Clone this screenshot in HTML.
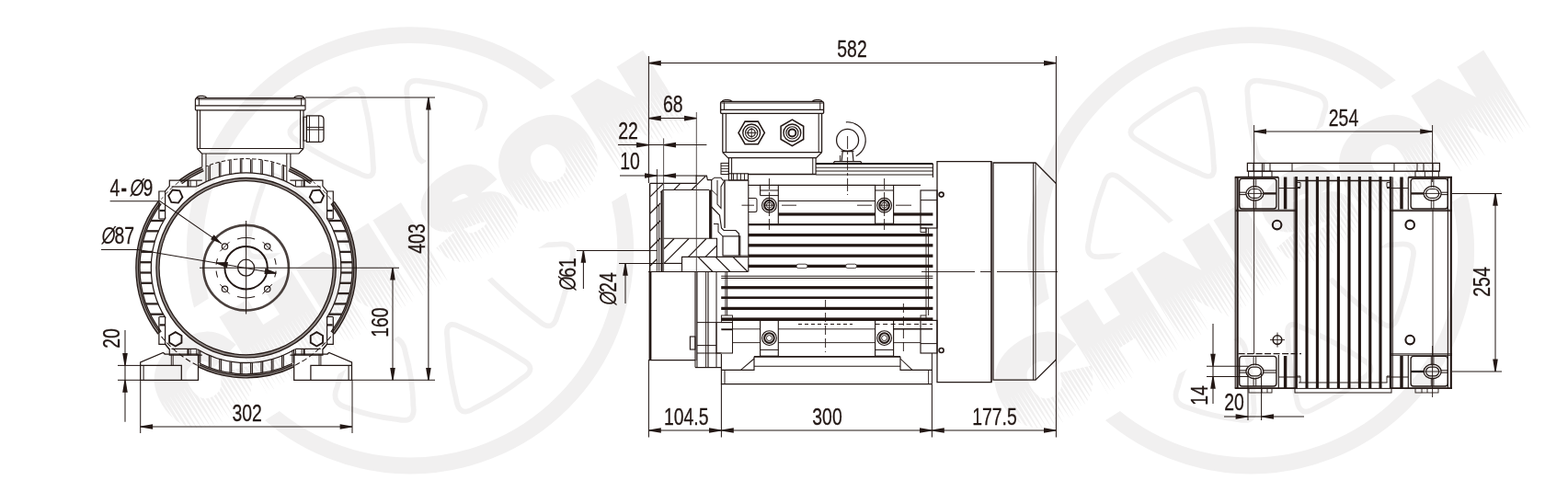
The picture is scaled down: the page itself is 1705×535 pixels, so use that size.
<!DOCTYPE html>
<html><head><meta charset="utf-8"><title>Motor dimensions</title>
<style>
html,body{margin:0;padding:0;background:#fff;}
body{width:1705px;height:535px;overflow:hidden;}
svg{display:block;will-change:transform;font-family:"Liberation Sans",sans-serif;}
</style></head><body>
<svg width="1705" height="535" viewBox="0 0 1705 535">
<rect width="1705" height="535" fill="#fff"/>
<g transform="translate(446,272.3)">
<circle cx="0" cy="0" r="234.2" fill="none" stroke="#f1f0f0" stroke-width="17.8"/>
<path d="M-121.6,-118.8 Q-139.3,-128.2 -122.3,-138.8 Q-98.0,-158.3 -69.9,-171.6 Q-53.0,-182.2 -50.1,-162.4 Q-41.6,-128.7 -40.3,-94.0 Q-37.4,-74.2 -55.1,-83.6 Q-90.1,-98.0 -121.6,-118.8 Z" fill="none" stroke="#f1f0f0" stroke-width="5.8" stroke-linejoin="round"/>
<path d="M121.6,118.8 Q139.3,128.2 122.3,138.8 Q98.0,158.3 69.9,171.6 Q53.0,182.2 50.1,162.4 Q41.6,128.7 40.3,94.0 Q37.4,74.2 55.1,83.6 Q90.1,98.0 121.6,118.8 Z" fill="none" stroke="#f1f0f0" stroke-width="5.8" stroke-linejoin="round"/>
<path d="M-3.4,-168.5 Q-6.3,-188.3 13.2,-183.8 Q41.3,-181.0 67.7,-171.2 Q87.2,-166.7 79.3,-148.3 Q75.3,-130.1 64.8,-114.8 Q56.9,-96.4 36.9,-94.5 Q32.8,-90.5 27.9,-93.7 Q8.0,-91.8 5.1,-111.6 Q-2.7,-139.5 -3.4,-168.5 Z" fill="none" stroke="#f1f0f0" stroke-width="5.8" stroke-linejoin="round"/>
<path d="M3.4,168.5 Q6.3,188.3 -13.2,183.8 Q-41.3,181.0 -67.7,171.2 Q-87.2,166.7 -79.3,148.3 Q-75.3,130.1 -64.8,114.8 Q-56.9,96.4 -36.9,94.5 Q-32.8,90.5 -27.9,93.7 Q-8.0,91.8 -5.1,111.6 Q2.7,139.5 3.4,168.5 Z" fill="none" stroke="#f1f0f0" stroke-width="5.8" stroke-linejoin="round"/>
<path d="M140.0,76.8 Q155.0,90.0 160.1,70.7 Q171.5,41.3 176.0,10.1 Q181.0,-9.3 161.2,-6.7 Q120.3,-5.0 80.3,3.8 Q60.5,6.3 75.5,19.6 Q105.3,50.9 140.0,76.8 Z" fill="none" stroke="#f1f0f0" stroke-width="5.8" stroke-linejoin="round"/>
<path d="M-140.0,-76.8 Q-155.0,-90.0 -160.1,-70.7 Q-171.5,-41.3 -176.0,-10.1 Q-181.0,9.3 -161.2,6.7 Q-120.3,5.0 -80.3,-3.8 Q-60.5,-6.3 -75.5,-19.6 Q-105.3,-50.9 -140.0,-76.8 Z" fill="none" stroke="#f1f0f0" stroke-width="5.8" stroke-linejoin="round"/>
<g transform="rotate(-32.2)">
<rect x="-420" y="-72.5" width="840" height="144.5" fill="#fff"/>
<g transform="scale(1.08,1)">
<text x="-290.9 -198.3 -107.2 -15.4 29.9 118.2 219.7" y="40.60" font-family="Liberation Sans, sans-serif" font-weight="bold" font-size="119.0" fill="#f1f0f0" stroke="#f1f0f0" stroke-width="16.2" stroke-linejoin="miter">CHNISON</text>
<path d="M-307.96,-4.0L-307.84,-4.0L-307.84,55.4L-312.00,55.4L-312.00,-4.0L-311.18,21.4L-309.98,46.7L-308.79,21.4zM-303.84,-4.0L-303.72,-4.0L-303.72,55.4L-307.88,55.4L-307.88,-4.0L-307.06,23.4L-305.86,50.9L-304.67,23.4zM-299.72,-4.0L-299.60,-4.0L-299.60,55.4L-303.76,55.4L-303.76,-4.0L-302.94,25.5L-301.74,55.0L-300.55,25.5zM-295.60,-4.0L-295.48,-4.0L-295.48,55.4L-299.64,55.4L-299.64,-4.0L-298.81,22.4L-297.62,48.8L-296.42,22.4zM-291.48,-4.0L-291.36,-4.0L-291.36,55.4L-295.52,55.4L-295.52,-4.0L-294.69,24.5L-293.50,52.9L-292.30,24.5zM-287.36,-4.0L-287.24,-4.0L-287.24,55.4L-291.40,55.4L-291.40,-4.0L-290.57,21.4L-289.38,46.7L-288.18,21.4zM-283.24,-4.0L-283.12,-4.0L-283.12,55.4L-287.28,55.4L-287.28,-4.0L-286.45,23.4L-285.26,50.9L-284.06,23.4zM-279.12,-4.0L-279.00,-4.0L-279.00,55.4L-283.16,55.4L-283.16,-4.0L-282.33,25.5L-281.14,55.0L-279.94,25.5zM-275.00,-4.0L-274.88,-4.0L-274.88,55.4L-279.04,55.4L-279.04,-4.0L-278.21,22.4L-277.02,48.8L-275.82,22.4zM-270.88,-4.0L-270.76,-4.0L-270.76,55.4L-274.92,55.4L-274.92,-4.0L-274.09,24.5L-272.90,52.9L-271.70,24.5zM-266.76,-4.0L-266.64,-4.0L-266.64,55.4L-270.80,55.4L-270.80,-4.0L-269.97,21.4L-268.78,46.7L-267.58,21.4zM-262.64,-4.0L-262.52,-4.0L-262.52,55.4L-266.68,55.4L-266.68,-4.0L-265.85,23.4L-264.66,50.9L-263.46,23.4zM-258.52,-4.0L-258.40,-4.0L-258.40,55.4L-262.56,55.4L-262.56,-4.0L-261.73,25.5L-260.54,55.0L-259.34,25.5zM-254.40,-4.0L-254.27,-4.0L-254.27,55.4L-258.44,55.4L-258.44,-4.0L-257.61,22.4L-256.42,48.8L-255.22,22.4zM-250.28,-4.0L-250.15,-4.0L-250.15,55.4L-254.31,55.4L-254.31,-4.0L-253.49,24.5L-252.30,52.9L-251.10,24.5zM-246.16,-4.0L-246.03,-4.0L-246.03,55.4L-250.19,55.4L-250.19,-4.0L-249.37,21.4L-248.18,46.7L-246.98,21.4zM-242.04,-4.0L-241.91,-4.0L-241.91,55.4L-246.07,55.4L-246.07,-4.0L-245.25,23.4L-244.06,50.9L-242.86,23.4zM-237.92,-4.0L-237.79,-4.0L-237.79,55.4L-241.95,55.4L-241.95,-4.0L-241.13,25.5L-239.93,55.0L-238.74,25.5zM-233.80,-4.0L-233.67,-4.0L-233.67,55.4L-237.83,55.4L-237.83,-4.0L-237.01,22.4L-235.81,48.8L-234.62,22.4zM-229.67,-4.0L-229.55,-4.0L-229.55,55.4L-233.71,55.4L-233.71,-4.0L-232.89,24.5L-231.69,52.9L-230.50,24.5zM-225.55,-4.0L-225.43,-4.0L-225.43,55.4L-229.59,55.4L-229.59,-4.0L-228.77,21.4L-227.57,46.7L-226.38,21.4zM-221.43,-4.0L-221.31,-4.0L-221.31,55.4L-225.47,55.4L-225.47,-4.0L-224.65,23.4L-223.45,50.9L-222.26,23.4zM-217.31,-4.0L-217.19,-4.0L-217.19,55.4L-221.35,55.4L-221.35,-4.0L-220.53,25.5L-219.33,55.0L-218.14,25.5zM-213.19,-4.0L-213.07,-4.0L-213.07,55.4L-217.23,55.4L-217.23,-4.0L-216.41,22.4L-215.21,48.8L-214.02,22.4zM-209.07,-4.0L-208.95,-4.0L-208.95,55.4L-213.11,55.4L-213.11,-4.0L-212.29,24.5L-211.09,52.9L-209.90,24.5zM-204.95,-4.0L-204.83,-4.0L-204.83,55.4L-208.99,55.4L-208.99,-4.0L-208.17,21.4L-206.97,46.7L-205.78,21.4zM-200.83,-4.0L-200.71,-4.0L-200.71,55.4L-204.87,55.4L-204.87,-4.0L-204.05,23.4L-202.85,50.9L-201.66,23.4zM-196.71,-4.0L-196.59,-4.0L-196.59,55.4L-200.75,55.4L-200.75,-4.0L-199.93,25.5L-198.73,55.0L-197.54,25.5zM-192.59,-4.0L-192.47,-4.0L-192.47,55.4L-196.63,55.4L-196.63,-4.0L-195.81,22.4L-194.61,48.8L-193.42,22.4zM-188.47,-4.0L-188.35,-4.0L-188.35,55.4L-192.51,55.4L-192.51,-4.0L-191.69,24.5L-190.49,52.9L-189.30,24.5zM-184.35,-4.0L-184.23,-4.0L-184.23,55.4L-188.39,55.4L-188.39,-4.0L-187.56,21.4L-186.37,46.7L-185.17,21.4zM-180.23,-4.0L-180.11,-4.0L-180.11,55.4L-184.27,55.4L-184.27,-4.0L-183.44,23.4L-182.25,50.9L-181.05,23.4zM-176.11,-4.0L-175.99,-4.0L-175.99,55.4L-180.15,55.4L-180.15,-4.0L-179.32,25.5L-178.13,55.0L-176.93,25.5zM-171.99,-4.0L-171.87,-4.0L-171.87,55.4L-176.03,55.4L-176.03,-4.0L-175.20,22.4L-174.01,48.8L-172.81,22.4zM-167.87,-4.0L-167.75,-4.0L-167.75,55.4L-171.91,55.4L-171.91,-4.0L-171.08,24.5L-169.89,52.9L-168.69,24.5zM-163.75,-4.0L-163.63,-4.0L-163.63,55.4L-167.79,55.4L-167.79,-4.0L-166.96,21.4L-165.77,46.7L-164.57,21.4zM-159.63,-4.0L-159.51,-4.0L-159.51,55.4L-163.67,55.4L-163.67,-4.0L-162.84,23.4L-161.65,50.9L-160.45,23.4zM-155.51,-4.0L-155.39,-4.0L-155.39,55.4L-159.55,55.4L-159.55,-4.0L-158.72,25.5L-157.53,55.0L-156.33,25.5zM-151.39,-4.0L-151.27,-4.0L-151.27,55.4L-155.43,55.4L-155.43,-4.0L-154.60,22.4L-153.41,48.8L-152.21,22.4zM-147.27,-4.0L-147.15,-4.0L-147.15,55.4L-151.31,55.4L-151.31,-4.0L-150.48,24.5L-149.29,52.9L-148.09,24.5zM-143.15,-4.0L-143.02,-4.0L-143.02,55.4L-147.19,55.4L-147.19,-4.0L-146.36,21.4L-145.17,46.7L-143.97,21.4zM-139.03,-4.0L-138.90,-4.0L-138.90,55.4L-143.06,55.4L-143.06,-4.0L-142.24,23.4L-141.05,50.9L-139.85,23.4zM-134.91,-4.0L-134.78,-4.0L-134.78,55.4L-138.94,55.4L-138.94,-4.0L-138.12,25.5L-136.93,55.0L-135.73,25.5zM-130.79,-4.0L-130.66,-4.0L-130.66,55.4L-134.82,55.4L-134.82,-4.0L-134.00,22.4L-132.81,48.8L-131.61,22.4zM-126.67,-4.0L-126.54,-4.0L-126.54,55.4L-130.70,55.4L-130.70,-4.0L-129.88,24.5L-128.68,52.9L-127.49,24.5zM-122.55,-4.0L-122.42,-4.0L-122.42,55.4L-126.58,55.4L-126.58,-4.0L-125.76,21.4L-124.56,46.7L-123.37,21.4zM-118.42,-4.0L-118.30,-4.0L-118.30,55.4L-122.46,55.4L-122.46,-4.0L-121.64,23.4L-120.44,50.9L-119.25,23.4zM-114.30,-4.0L-114.18,-4.0L-114.18,55.4L-118.34,55.4L-118.34,-4.0L-117.52,25.5L-116.32,55.0L-115.13,25.5zM-110.18,-4.0L-110.06,-4.0L-110.06,55.4L-114.22,55.4L-114.22,-4.0L-113.40,22.4L-112.20,48.8L-111.01,22.4zM-106.06,-4.0L-105.94,-4.0L-105.94,55.4L-110.10,55.4L-110.10,-4.0L-109.28,24.5L-108.08,52.9L-106.89,24.5zM-101.94,-4.0L-101.82,-4.0L-101.82,55.4L-105.98,55.4L-105.98,-4.0L-105.16,21.4L-103.96,46.7L-102.77,21.4zM-97.82,-4.0L-97.70,-4.0L-97.70,55.4L-101.86,55.4L-101.86,-4.0L-101.04,23.4L-99.84,50.9L-98.65,23.4zM-93.70,-4.0L-93.58,-4.0L-93.58,55.4L-97.74,55.4L-97.74,-4.0L-96.92,25.5L-95.72,55.0L-94.53,25.5zM-89.58,-4.0L-89.46,-4.0L-89.46,55.4L-93.62,55.4L-93.62,-4.0L-92.80,22.4L-91.60,48.8L-90.41,22.4zM-85.46,-4.0L-85.34,-4.0L-85.34,55.4L-89.50,55.4L-89.50,-4.0L-88.68,24.5L-87.48,52.9L-86.29,24.5zM-81.34,-4.0L-81.22,-4.0L-81.22,55.4L-85.38,55.4L-85.38,-4.0L-84.56,21.4L-83.36,46.7L-82.17,21.4zM-77.22,-4.0L-77.10,-4.0L-77.10,55.4L-81.26,55.4L-81.26,-4.0L-80.44,23.4L-79.24,50.9L-78.05,23.4zM-73.10,-4.0L-72.98,-4.0L-72.98,55.4L-77.14,55.4L-77.14,-4.0L-76.31,25.5L-75.12,55.0L-73.92,25.5zM-68.98,-4.0L-68.86,-4.0L-68.86,55.4L-73.02,55.4L-73.02,-4.0L-72.19,22.4L-71.00,48.8L-69.80,22.4zM-64.86,-4.0L-64.74,-4.0L-64.74,55.4L-68.90,55.4L-68.90,-4.0L-68.07,24.5L-66.88,52.9L-65.68,24.5zM-60.74,-4.0L-60.62,-4.0L-60.62,55.4L-64.78,55.4L-64.78,-4.0L-63.95,21.4L-62.76,46.7L-61.56,21.4zM-56.62,-4.0L-56.50,-4.0L-56.50,55.4L-60.66,55.4L-60.66,-4.0L-59.83,23.4L-58.64,50.9L-57.44,23.4zM-52.50,-4.0L-52.38,-4.0L-52.38,55.4L-56.54,55.4L-56.54,-4.0L-55.71,25.5L-54.52,55.0L-53.32,25.5zM-48.38,-4.0L-48.26,-4.0L-48.26,55.4L-52.42,55.4L-52.42,-4.0L-51.59,22.4L-50.40,48.8L-49.20,22.4zM-44.26,-4.0L-44.14,-4.0L-44.14,55.4L-48.30,55.4L-48.30,-4.0L-47.47,24.5L-46.28,52.9L-45.08,24.5zM-40.14,-4.0L-40.02,-4.0L-40.02,55.4L-44.18,55.4L-44.18,-4.0L-43.35,21.4L-42.16,46.7L-40.96,21.4zM-36.02,-4.0L-35.90,-4.0L-35.90,55.4L-40.06,55.4L-40.06,-4.0L-39.23,23.4L-38.04,50.9L-36.84,23.4zM-31.90,-4.0L-31.77,-4.0L-31.77,55.4L-35.94,55.4L-35.94,-4.0L-35.11,25.5L-33.92,55.0L-32.72,25.5zM-27.78,-4.0L-27.65,-4.0L-27.65,55.4L-31.81,55.4L-31.81,-4.0L-30.99,22.4L-29.80,48.8L-28.60,22.4zM-23.66,-4.0L-23.53,-4.0L-23.53,55.4L-27.69,55.4L-27.69,-4.0L-26.87,24.5L-25.68,52.9L-24.48,24.5zM-19.54,-4.0L-19.41,-4.0L-19.41,55.4L-23.57,55.4L-23.57,-4.0L-22.75,21.4L-21.56,46.7L-20.36,21.4zM-15.42,-4.0L-15.29,-4.0L-15.29,55.4L-19.45,55.4L-19.45,-4.0L-18.63,23.4L-17.43,50.9L-16.24,23.4zM-11.30,-4.0L-11.17,-4.0L-11.17,55.4L-15.33,55.4L-15.33,-4.0L-14.51,25.5L-13.31,55.0L-12.12,25.5zM-7.17,-4.0L-7.05,-4.0L-7.05,55.4L-11.21,55.4L-11.21,-4.0L-10.39,22.4L-9.19,48.8L-8.00,22.4zM-3.05,-4.0L-2.93,-4.0L-2.93,55.4L-7.09,55.4L-7.09,-4.0L-6.27,24.5L-5.07,52.9L-3.88,24.5zM1.07,-4.0L1.19,-4.0L1.19,55.4L-2.97,55.4L-2.97,-4.0L-2.15,21.4L-0.95,46.7L0.24,21.4zM5.19,-4.0L5.31,-4.0L5.31,55.4L1.15,55.4L1.15,-4.0L1.97,23.4L3.17,50.9L4.36,23.4zM9.31,-4.0L9.43,-4.0L9.43,55.4L5.27,55.4L5.27,-4.0L6.09,25.5L7.29,55.0L8.48,25.5zM13.43,-4.0L13.55,-4.0L13.55,55.4L9.39,55.4L9.39,-4.0L10.21,22.4L11.41,48.8L12.60,22.4zM17.55,-4.0L17.67,-4.0L17.67,55.4L13.51,55.4L13.51,-4.0L14.33,24.5L15.53,52.9L16.72,24.5zM21.67,-4.0L21.79,-4.0L21.79,55.4L17.63,55.4L17.63,-4.0L18.45,21.4L19.65,46.7L20.84,21.4zM25.79,-4.0L25.91,-4.0L25.91,55.4L21.75,55.4L21.75,-4.0L22.57,23.4L23.77,50.9L24.96,23.4zM29.91,-4.0L30.03,-4.0L30.03,55.4L25.87,55.4L25.87,-4.0L26.69,25.5L27.89,55.0L29.08,25.5zM34.03,-4.0L34.15,-4.0L34.15,55.4L29.99,55.4L29.99,-4.0L30.81,22.4L32.01,48.8L33.20,22.4zM38.15,-4.0L38.27,-4.0L38.27,55.4L34.11,55.4L34.11,-4.0L34.94,24.5L36.13,52.9L37.33,24.5zM42.27,-4.0L42.39,-4.0L42.39,55.4L38.23,55.4L38.23,-4.0L39.06,21.4L40.25,46.7L41.45,21.4zM46.39,-4.0L46.51,-4.0L46.51,55.4L42.35,55.4L42.35,-4.0L43.18,23.4L44.37,50.9L45.57,23.4zM50.51,-4.0L50.63,-4.0L50.63,55.4L46.47,55.4L46.47,-4.0L47.30,25.5L48.49,55.0L49.69,25.5zM54.63,-4.0L54.75,-4.0L54.75,55.4L50.59,55.4L50.59,-4.0L51.42,22.4L52.61,48.8L53.81,22.4zM58.75,-4.0L58.87,-4.0L58.87,55.4L54.71,55.4L54.71,-4.0L55.54,24.5L56.73,52.9L57.93,24.5zM62.87,-4.0L62.99,-4.0L62.99,55.4L58.83,55.4L58.83,-4.0L59.66,21.4L60.85,46.7L62.05,21.4zM66.99,-4.0L67.11,-4.0L67.11,55.4L62.95,55.4L62.95,-4.0L63.78,23.4L64.97,50.9L66.17,23.4zM71.11,-4.0L71.23,-4.0L71.23,55.4L67.07,55.4L67.07,-4.0L67.90,25.5L69.09,55.0L70.29,25.5zM75.23,-4.0L75.35,-4.0L75.35,55.4L71.19,55.4L71.19,-4.0L72.02,22.4L73.21,48.8L74.41,22.4zM79.35,-4.0L79.48,-4.0L79.48,55.4L75.31,55.4L75.31,-4.0L76.14,24.5L77.33,52.9L78.53,24.5zM83.47,-4.0L83.60,-4.0L83.60,55.4L79.44,55.4L79.44,-4.0L80.26,21.4L81.45,46.7L82.65,21.4zM87.59,-4.0L87.72,-4.0L87.72,55.4L83.56,55.4L83.56,-4.0L84.38,23.4L85.57,50.9L86.77,23.4zM91.71,-4.0L91.84,-4.0L91.84,55.4L87.68,55.4L87.68,-4.0L88.50,25.5L89.69,55.0L90.89,25.5zM95.83,-4.0L95.96,-4.0L95.96,55.4L91.80,55.4L91.80,-4.0L92.62,22.4L93.82,48.8L95.01,22.4zM99.95,-4.0L100.08,-4.0L100.08,55.4L95.92,55.4L95.92,-4.0L96.74,24.5L97.94,52.9L99.13,24.5zM104.08,-4.0L104.20,-4.0L104.20,55.4L100.04,55.4L100.04,-4.0L100.86,21.4L102.06,46.7L103.25,21.4zM108.20,-4.0L108.32,-4.0L108.32,55.4L104.16,55.4L104.16,-4.0L104.98,23.4L106.18,50.9L107.37,23.4zM112.32,-4.0L112.44,-4.0L112.44,55.4L108.28,55.4L108.28,-4.0L109.10,25.5L110.30,55.0L111.49,25.5zM116.44,-4.0L116.56,-4.0L116.56,55.4L112.40,55.4L112.40,-4.0L113.22,22.4L114.42,48.8L115.61,22.4zM120.56,-4.0L120.68,-4.0L120.68,55.4L116.52,55.4L116.52,-4.0L117.34,24.5L118.54,52.9L119.73,24.5zM124.68,-4.0L124.80,-4.0L124.80,55.4L120.64,55.4L120.64,-4.0L121.46,21.4L122.66,46.7L123.85,21.4zM128.80,-4.0L128.92,-4.0L128.92,55.4L124.76,55.4L124.76,-4.0L125.58,23.4L126.78,50.9L127.97,23.4zM132.92,-4.0L133.04,-4.0L133.04,55.4L128.88,55.4L128.88,-4.0L129.70,25.5L130.90,55.0L132.09,25.5zM137.04,-4.0L137.16,-4.0L137.16,55.4L133.00,55.4L133.00,-4.0L133.82,22.4L135.02,48.8L136.21,22.4zM141.16,-4.0L141.28,-4.0L141.28,55.4L137.12,55.4L137.12,-4.0L137.94,24.5L139.14,52.9L140.33,24.5zM145.28,-4.0L145.40,-4.0L145.40,55.4L141.24,55.4L141.24,-4.0L142.06,21.4L143.26,46.7L144.45,21.4zM149.40,-4.0L149.52,-4.0L149.52,55.4L145.36,55.4L145.36,-4.0L146.19,23.4L147.38,50.9L148.58,23.4zM153.52,-4.0L153.64,-4.0L153.64,55.4L149.48,55.4L149.48,-4.0L150.31,25.5L151.50,55.0L152.70,25.5zM157.64,-4.0L157.76,-4.0L157.76,55.4L153.60,55.4L153.60,-4.0L154.43,22.4L155.62,48.8L156.82,22.4zM161.76,-4.0L161.88,-4.0L161.88,55.4L157.72,55.4L157.72,-4.0L158.55,24.5L159.74,52.9L160.94,24.5zM165.88,-4.0L166.00,-4.0L166.00,55.4L161.84,55.4L161.84,-4.0L162.67,21.4L163.86,46.7L165.06,21.4zM170.00,-4.0L170.12,-4.0L170.12,55.4L165.96,55.4L165.96,-4.0L166.79,23.4L167.98,50.9L169.18,23.4zM174.12,-4.0L174.24,-4.0L174.24,55.4L170.08,55.4L170.08,-4.0L170.91,25.5L172.10,55.0L173.30,25.5zM178.24,-4.0L178.36,-4.0L178.36,55.4L174.20,55.4L174.20,-4.0L175.03,22.4L176.22,48.8L177.42,22.4zM182.36,-4.0L182.48,-4.0L182.48,55.4L178.32,55.4L178.32,-4.0L179.15,24.5L180.34,52.9L181.54,24.5zM186.48,-4.0L186.60,-4.0L186.60,55.4L182.44,55.4L182.44,-4.0L183.27,21.4L184.46,46.7L185.66,21.4zM190.60,-4.0L190.73,-4.0L190.73,55.4L186.56,55.4L186.56,-4.0L187.39,23.4L188.58,50.9L189.78,23.4zM194.72,-4.0L194.85,-4.0L194.85,55.4L190.69,55.4L190.69,-4.0L191.51,25.5L192.70,55.0L193.90,25.5zM198.84,-4.0L198.97,-4.0L198.97,55.4L194.81,55.4L194.81,-4.0L195.63,22.4L196.82,48.8L198.02,22.4zM202.96,-4.0L203.09,-4.0L203.09,55.4L198.93,55.4L198.93,-4.0L199.75,24.5L200.94,52.9L202.14,24.5zM207.08,-4.0L207.21,-4.0L207.21,55.4L203.05,55.4L203.05,-4.0L203.87,21.4L205.07,46.7L206.26,21.4zM211.20,-4.0L211.33,-4.0L211.33,55.4L207.17,55.4L207.17,-4.0L207.99,23.4L209.19,50.9L210.38,23.4zM215.33,-4.0L215.45,-4.0L215.45,55.4L211.29,55.4L211.29,-4.0L212.11,25.5L213.31,55.0L214.50,25.5zM219.45,-4.0L219.57,-4.0L219.57,55.4L215.41,55.4L215.41,-4.0L216.23,22.4L217.43,48.8L218.62,22.4zM223.57,-4.0L223.69,-4.0L223.69,55.4L219.53,55.4L219.53,-4.0L220.35,24.5L221.55,52.9L222.74,24.5zM227.69,-4.0L227.81,-4.0L227.81,55.4L223.65,55.4L223.65,-4.0L224.47,21.4L225.67,46.7L226.86,21.4zM231.81,-4.0L231.93,-4.0L231.93,55.4L227.77,55.4L227.77,-4.0L228.59,23.4L229.79,50.9L230.98,23.4zM235.93,-4.0L236.05,-4.0L236.05,55.4L231.89,55.4L231.89,-4.0L232.71,25.5L233.91,55.0L235.10,25.5zM240.05,-4.0L240.17,-4.0L240.17,55.4L236.01,55.4L236.01,-4.0L236.83,22.4L238.03,48.8L239.22,22.4zM244.17,-4.0L244.29,-4.0L244.29,55.4L240.13,55.4L240.13,-4.0L240.95,24.5L242.15,52.9L243.34,24.5zM248.29,-4.0L248.41,-4.0L248.41,55.4L244.25,55.4L244.25,-4.0L245.07,21.4L246.27,46.7L247.46,21.4zM252.41,-4.0L252.53,-4.0L252.53,55.4L248.37,55.4L248.37,-4.0L249.19,23.4L250.39,50.9L251.58,23.4zM256.53,-4.0L256.65,-4.0L256.65,55.4L252.49,55.4L252.49,-4.0L253.31,25.5L254.51,55.0L255.70,25.5zM260.65,-4.0L260.77,-4.0L260.77,55.4L256.61,55.4L256.61,-4.0L257.44,22.4L258.63,48.8L259.83,22.4zM264.77,-4.0L264.89,-4.0L264.89,55.4L260.73,55.4L260.73,-4.0L261.56,24.5L262.75,52.9L263.95,24.5zM268.89,-4.0L269.01,-4.0L269.01,55.4L264.85,55.4L264.85,-4.0L265.68,21.4L266.87,46.7L268.07,21.4zM273.01,-4.0L273.13,-4.0L273.13,55.4L268.97,55.4L268.97,-4.0L269.80,23.4L270.99,50.9L272.19,23.4zM277.13,-4.0L277.25,-4.0L277.25,55.4L273.09,55.4L273.09,-4.0L273.92,25.5L275.11,55.0L276.31,25.5zM281.25,-4.0L281.37,-4.0L281.37,55.4L277.21,55.4L277.21,-4.0L278.04,22.4L279.23,48.8L280.43,22.4zM285.37,-4.0L285.49,-4.0L285.49,55.4L281.33,55.4L281.33,-4.0L282.16,24.5L283.35,52.9L284.55,24.5zM289.49,-4.0L289.61,-4.0L289.61,55.4L285.45,55.4L285.45,-4.0L286.28,21.4L287.47,46.7L288.67,21.4zM293.61,-4.0L293.73,-4.0L293.73,55.4L289.57,55.4L289.57,-4.0L290.40,23.4L291.59,50.9L292.79,23.4zM297.73,-4.0L297.85,-4.0L297.85,55.4L293.69,55.4L293.69,-4.0L294.52,25.5L295.71,55.0L296.91,25.5zM301.85,-4.0L301.98,-4.0L301.98,55.4L297.81,55.4L297.81,-4.0L298.64,22.4L299.83,48.8L301.03,22.4zM305.97,-4.0L306.10,-4.0L306.10,55.4L301.94,55.4L301.94,-4.0L302.76,24.5L303.95,52.9L305.15,24.5zM310.09,-4.0L310.22,-4.0L310.22,55.4L306.06,55.4L306.06,-4.0L306.88,21.4L308.07,46.7L309.27,21.4zM314.21,-4.0L314.34,-4.0L314.34,55.4L310.18,55.4L310.18,-4.0L311.00,23.4L312.19,50.9L313.39,23.4z" fill="#fff"/>
<rect x="-330" y="55.0" width="660" height="17.0" fill="#fff"/>
</g></g></g>
<g transform="translate(1360,272.3)">
<circle cx="0" cy="0" r="234.2" fill="none" stroke="#f1f0f0" stroke-width="17.8"/>
<path d="M-121.6,-118.8 Q-139.3,-128.2 -122.3,-138.8 Q-98.0,-158.3 -69.9,-171.6 Q-53.0,-182.2 -50.1,-162.4 Q-41.6,-128.7 -40.3,-94.0 Q-37.4,-74.2 -55.1,-83.6 Q-90.1,-98.0 -121.6,-118.8 Z" fill="none" stroke="#f1f0f0" stroke-width="5.8" stroke-linejoin="round"/>
<path d="M121.6,118.8 Q139.3,128.2 122.3,138.8 Q98.0,158.3 69.9,171.6 Q53.0,182.2 50.1,162.4 Q41.6,128.7 40.3,94.0 Q37.4,74.2 55.1,83.6 Q90.1,98.0 121.6,118.8 Z" fill="none" stroke="#f1f0f0" stroke-width="5.8" stroke-linejoin="round"/>
<path d="M-3.4,-168.5 Q-6.3,-188.3 13.2,-183.8 Q41.3,-181.0 67.7,-171.2 Q87.2,-166.7 79.3,-148.3 Q75.3,-130.1 64.8,-114.8 Q56.9,-96.4 36.9,-94.5 Q32.8,-90.5 27.9,-93.7 Q8.0,-91.8 5.1,-111.6 Q-2.7,-139.5 -3.4,-168.5 Z" fill="none" stroke="#f1f0f0" stroke-width="5.8" stroke-linejoin="round"/>
<path d="M3.4,168.5 Q6.3,188.3 -13.2,183.8 Q-41.3,181.0 -67.7,171.2 Q-87.2,166.7 -79.3,148.3 Q-75.3,130.1 -64.8,114.8 Q-56.9,96.4 -36.9,94.5 Q-32.8,90.5 -27.9,93.7 Q-8.0,91.8 -5.1,111.6 Q2.7,139.5 3.4,168.5 Z" fill="none" stroke="#f1f0f0" stroke-width="5.8" stroke-linejoin="round"/>
<path d="M140.0,76.8 Q155.0,90.0 160.1,70.7 Q171.5,41.3 176.0,10.1 Q181.0,-9.3 161.2,-6.7 Q120.3,-5.0 80.3,3.8 Q60.5,6.3 75.5,19.6 Q105.3,50.9 140.0,76.8 Z" fill="none" stroke="#f1f0f0" stroke-width="5.8" stroke-linejoin="round"/>
<path d="M-140.0,-76.8 Q-155.0,-90.0 -160.1,-70.7 Q-171.5,-41.3 -176.0,-10.1 Q-181.0,9.3 -161.2,6.7 Q-120.3,5.0 -80.3,-3.8 Q-60.5,-6.3 -75.5,-19.6 Q-105.3,-50.9 -140.0,-76.8 Z" fill="none" stroke="#f1f0f0" stroke-width="5.8" stroke-linejoin="round"/>
<g transform="rotate(-32.2)">
<rect x="-420" y="-72.5" width="840" height="144.5" fill="#fff"/>
<g transform="scale(1.08,1)">
<text x="-290.9 -198.3 -107.2 -15.4 29.9 118.2 219.7" y="40.60" font-family="Liberation Sans, sans-serif" font-weight="bold" font-size="119.0" fill="#f1f0f0" stroke="#f1f0f0" stroke-width="16.2" stroke-linejoin="miter">CHNISON</text>
<path d="M-307.96,-4.0L-307.84,-4.0L-307.84,55.4L-312.00,55.4L-312.00,-4.0L-311.18,21.4L-309.98,46.7L-308.79,21.4zM-303.84,-4.0L-303.72,-4.0L-303.72,55.4L-307.88,55.4L-307.88,-4.0L-307.06,23.4L-305.86,50.9L-304.67,23.4zM-299.72,-4.0L-299.60,-4.0L-299.60,55.4L-303.76,55.4L-303.76,-4.0L-302.94,25.5L-301.74,55.0L-300.55,25.5zM-295.60,-4.0L-295.48,-4.0L-295.48,55.4L-299.64,55.4L-299.64,-4.0L-298.81,22.4L-297.62,48.8L-296.42,22.4zM-291.48,-4.0L-291.36,-4.0L-291.36,55.4L-295.52,55.4L-295.52,-4.0L-294.69,24.5L-293.50,52.9L-292.30,24.5zM-287.36,-4.0L-287.24,-4.0L-287.24,55.4L-291.40,55.4L-291.40,-4.0L-290.57,21.4L-289.38,46.7L-288.18,21.4zM-283.24,-4.0L-283.12,-4.0L-283.12,55.4L-287.28,55.4L-287.28,-4.0L-286.45,23.4L-285.26,50.9L-284.06,23.4zM-279.12,-4.0L-279.00,-4.0L-279.00,55.4L-283.16,55.4L-283.16,-4.0L-282.33,25.5L-281.14,55.0L-279.94,25.5zM-275.00,-4.0L-274.88,-4.0L-274.88,55.4L-279.04,55.4L-279.04,-4.0L-278.21,22.4L-277.02,48.8L-275.82,22.4zM-270.88,-4.0L-270.76,-4.0L-270.76,55.4L-274.92,55.4L-274.92,-4.0L-274.09,24.5L-272.90,52.9L-271.70,24.5zM-266.76,-4.0L-266.64,-4.0L-266.64,55.4L-270.80,55.4L-270.80,-4.0L-269.97,21.4L-268.78,46.7L-267.58,21.4zM-262.64,-4.0L-262.52,-4.0L-262.52,55.4L-266.68,55.4L-266.68,-4.0L-265.85,23.4L-264.66,50.9L-263.46,23.4zM-258.52,-4.0L-258.40,-4.0L-258.40,55.4L-262.56,55.4L-262.56,-4.0L-261.73,25.5L-260.54,55.0L-259.34,25.5zM-254.40,-4.0L-254.27,-4.0L-254.27,55.4L-258.44,55.4L-258.44,-4.0L-257.61,22.4L-256.42,48.8L-255.22,22.4zM-250.28,-4.0L-250.15,-4.0L-250.15,55.4L-254.31,55.4L-254.31,-4.0L-253.49,24.5L-252.30,52.9L-251.10,24.5zM-246.16,-4.0L-246.03,-4.0L-246.03,55.4L-250.19,55.4L-250.19,-4.0L-249.37,21.4L-248.18,46.7L-246.98,21.4zM-242.04,-4.0L-241.91,-4.0L-241.91,55.4L-246.07,55.4L-246.07,-4.0L-245.25,23.4L-244.06,50.9L-242.86,23.4zM-237.92,-4.0L-237.79,-4.0L-237.79,55.4L-241.95,55.4L-241.95,-4.0L-241.13,25.5L-239.93,55.0L-238.74,25.5zM-233.80,-4.0L-233.67,-4.0L-233.67,55.4L-237.83,55.4L-237.83,-4.0L-237.01,22.4L-235.81,48.8L-234.62,22.4zM-229.67,-4.0L-229.55,-4.0L-229.55,55.4L-233.71,55.4L-233.71,-4.0L-232.89,24.5L-231.69,52.9L-230.50,24.5zM-225.55,-4.0L-225.43,-4.0L-225.43,55.4L-229.59,55.4L-229.59,-4.0L-228.77,21.4L-227.57,46.7L-226.38,21.4zM-221.43,-4.0L-221.31,-4.0L-221.31,55.4L-225.47,55.4L-225.47,-4.0L-224.65,23.4L-223.45,50.9L-222.26,23.4zM-217.31,-4.0L-217.19,-4.0L-217.19,55.4L-221.35,55.4L-221.35,-4.0L-220.53,25.5L-219.33,55.0L-218.14,25.5zM-213.19,-4.0L-213.07,-4.0L-213.07,55.4L-217.23,55.4L-217.23,-4.0L-216.41,22.4L-215.21,48.8L-214.02,22.4zM-209.07,-4.0L-208.95,-4.0L-208.95,55.4L-213.11,55.4L-213.11,-4.0L-212.29,24.5L-211.09,52.9L-209.90,24.5zM-204.95,-4.0L-204.83,-4.0L-204.83,55.4L-208.99,55.4L-208.99,-4.0L-208.17,21.4L-206.97,46.7L-205.78,21.4zM-200.83,-4.0L-200.71,-4.0L-200.71,55.4L-204.87,55.4L-204.87,-4.0L-204.05,23.4L-202.85,50.9L-201.66,23.4zM-196.71,-4.0L-196.59,-4.0L-196.59,55.4L-200.75,55.4L-200.75,-4.0L-199.93,25.5L-198.73,55.0L-197.54,25.5zM-192.59,-4.0L-192.47,-4.0L-192.47,55.4L-196.63,55.4L-196.63,-4.0L-195.81,22.4L-194.61,48.8L-193.42,22.4zM-188.47,-4.0L-188.35,-4.0L-188.35,55.4L-192.51,55.4L-192.51,-4.0L-191.69,24.5L-190.49,52.9L-189.30,24.5zM-184.35,-4.0L-184.23,-4.0L-184.23,55.4L-188.39,55.4L-188.39,-4.0L-187.56,21.4L-186.37,46.7L-185.17,21.4zM-180.23,-4.0L-180.11,-4.0L-180.11,55.4L-184.27,55.4L-184.27,-4.0L-183.44,23.4L-182.25,50.9L-181.05,23.4zM-176.11,-4.0L-175.99,-4.0L-175.99,55.4L-180.15,55.4L-180.15,-4.0L-179.32,25.5L-178.13,55.0L-176.93,25.5zM-171.99,-4.0L-171.87,-4.0L-171.87,55.4L-176.03,55.4L-176.03,-4.0L-175.20,22.4L-174.01,48.8L-172.81,22.4zM-167.87,-4.0L-167.75,-4.0L-167.75,55.4L-171.91,55.4L-171.91,-4.0L-171.08,24.5L-169.89,52.9L-168.69,24.5zM-163.75,-4.0L-163.63,-4.0L-163.63,55.4L-167.79,55.4L-167.79,-4.0L-166.96,21.4L-165.77,46.7L-164.57,21.4zM-159.63,-4.0L-159.51,-4.0L-159.51,55.4L-163.67,55.4L-163.67,-4.0L-162.84,23.4L-161.65,50.9L-160.45,23.4zM-155.51,-4.0L-155.39,-4.0L-155.39,55.4L-159.55,55.4L-159.55,-4.0L-158.72,25.5L-157.53,55.0L-156.33,25.5zM-151.39,-4.0L-151.27,-4.0L-151.27,55.4L-155.43,55.4L-155.43,-4.0L-154.60,22.4L-153.41,48.8L-152.21,22.4zM-147.27,-4.0L-147.15,-4.0L-147.15,55.4L-151.31,55.4L-151.31,-4.0L-150.48,24.5L-149.29,52.9L-148.09,24.5zM-143.15,-4.0L-143.02,-4.0L-143.02,55.4L-147.19,55.4L-147.19,-4.0L-146.36,21.4L-145.17,46.7L-143.97,21.4zM-139.03,-4.0L-138.90,-4.0L-138.90,55.4L-143.06,55.4L-143.06,-4.0L-142.24,23.4L-141.05,50.9L-139.85,23.4zM-134.91,-4.0L-134.78,-4.0L-134.78,55.4L-138.94,55.4L-138.94,-4.0L-138.12,25.5L-136.93,55.0L-135.73,25.5zM-130.79,-4.0L-130.66,-4.0L-130.66,55.4L-134.82,55.4L-134.82,-4.0L-134.00,22.4L-132.81,48.8L-131.61,22.4zM-126.67,-4.0L-126.54,-4.0L-126.54,55.4L-130.70,55.4L-130.70,-4.0L-129.88,24.5L-128.68,52.9L-127.49,24.5zM-122.55,-4.0L-122.42,-4.0L-122.42,55.4L-126.58,55.4L-126.58,-4.0L-125.76,21.4L-124.56,46.7L-123.37,21.4zM-118.42,-4.0L-118.30,-4.0L-118.30,55.4L-122.46,55.4L-122.46,-4.0L-121.64,23.4L-120.44,50.9L-119.25,23.4zM-114.30,-4.0L-114.18,-4.0L-114.18,55.4L-118.34,55.4L-118.34,-4.0L-117.52,25.5L-116.32,55.0L-115.13,25.5zM-110.18,-4.0L-110.06,-4.0L-110.06,55.4L-114.22,55.4L-114.22,-4.0L-113.40,22.4L-112.20,48.8L-111.01,22.4zM-106.06,-4.0L-105.94,-4.0L-105.94,55.4L-110.10,55.4L-110.10,-4.0L-109.28,24.5L-108.08,52.9L-106.89,24.5zM-101.94,-4.0L-101.82,-4.0L-101.82,55.4L-105.98,55.4L-105.98,-4.0L-105.16,21.4L-103.96,46.7L-102.77,21.4zM-97.82,-4.0L-97.70,-4.0L-97.70,55.4L-101.86,55.4L-101.86,-4.0L-101.04,23.4L-99.84,50.9L-98.65,23.4zM-93.70,-4.0L-93.58,-4.0L-93.58,55.4L-97.74,55.4L-97.74,-4.0L-96.92,25.5L-95.72,55.0L-94.53,25.5zM-89.58,-4.0L-89.46,-4.0L-89.46,55.4L-93.62,55.4L-93.62,-4.0L-92.80,22.4L-91.60,48.8L-90.41,22.4zM-85.46,-4.0L-85.34,-4.0L-85.34,55.4L-89.50,55.4L-89.50,-4.0L-88.68,24.5L-87.48,52.9L-86.29,24.5zM-81.34,-4.0L-81.22,-4.0L-81.22,55.4L-85.38,55.4L-85.38,-4.0L-84.56,21.4L-83.36,46.7L-82.17,21.4zM-77.22,-4.0L-77.10,-4.0L-77.10,55.4L-81.26,55.4L-81.26,-4.0L-80.44,23.4L-79.24,50.9L-78.05,23.4zM-73.10,-4.0L-72.98,-4.0L-72.98,55.4L-77.14,55.4L-77.14,-4.0L-76.31,25.5L-75.12,55.0L-73.92,25.5zM-68.98,-4.0L-68.86,-4.0L-68.86,55.4L-73.02,55.4L-73.02,-4.0L-72.19,22.4L-71.00,48.8L-69.80,22.4zM-64.86,-4.0L-64.74,-4.0L-64.74,55.4L-68.90,55.4L-68.90,-4.0L-68.07,24.5L-66.88,52.9L-65.68,24.5zM-60.74,-4.0L-60.62,-4.0L-60.62,55.4L-64.78,55.4L-64.78,-4.0L-63.95,21.4L-62.76,46.7L-61.56,21.4zM-56.62,-4.0L-56.50,-4.0L-56.50,55.4L-60.66,55.4L-60.66,-4.0L-59.83,23.4L-58.64,50.9L-57.44,23.4zM-52.50,-4.0L-52.38,-4.0L-52.38,55.4L-56.54,55.4L-56.54,-4.0L-55.71,25.5L-54.52,55.0L-53.32,25.5zM-48.38,-4.0L-48.26,-4.0L-48.26,55.4L-52.42,55.4L-52.42,-4.0L-51.59,22.4L-50.40,48.8L-49.20,22.4zM-44.26,-4.0L-44.14,-4.0L-44.14,55.4L-48.30,55.4L-48.30,-4.0L-47.47,24.5L-46.28,52.9L-45.08,24.5zM-40.14,-4.0L-40.02,-4.0L-40.02,55.4L-44.18,55.4L-44.18,-4.0L-43.35,21.4L-42.16,46.7L-40.96,21.4zM-36.02,-4.0L-35.90,-4.0L-35.90,55.4L-40.06,55.4L-40.06,-4.0L-39.23,23.4L-38.04,50.9L-36.84,23.4zM-31.90,-4.0L-31.77,-4.0L-31.77,55.4L-35.94,55.4L-35.94,-4.0L-35.11,25.5L-33.92,55.0L-32.72,25.5zM-27.78,-4.0L-27.65,-4.0L-27.65,55.4L-31.81,55.4L-31.81,-4.0L-30.99,22.4L-29.80,48.8L-28.60,22.4zM-23.66,-4.0L-23.53,-4.0L-23.53,55.4L-27.69,55.4L-27.69,-4.0L-26.87,24.5L-25.68,52.9L-24.48,24.5zM-19.54,-4.0L-19.41,-4.0L-19.41,55.4L-23.57,55.4L-23.57,-4.0L-22.75,21.4L-21.56,46.7L-20.36,21.4zM-15.42,-4.0L-15.29,-4.0L-15.29,55.4L-19.45,55.4L-19.45,-4.0L-18.63,23.4L-17.43,50.9L-16.24,23.4zM-11.30,-4.0L-11.17,-4.0L-11.17,55.4L-15.33,55.4L-15.33,-4.0L-14.51,25.5L-13.31,55.0L-12.12,25.5zM-7.17,-4.0L-7.05,-4.0L-7.05,55.4L-11.21,55.4L-11.21,-4.0L-10.39,22.4L-9.19,48.8L-8.00,22.4zM-3.05,-4.0L-2.93,-4.0L-2.93,55.4L-7.09,55.4L-7.09,-4.0L-6.27,24.5L-5.07,52.9L-3.88,24.5zM1.07,-4.0L1.19,-4.0L1.19,55.4L-2.97,55.4L-2.97,-4.0L-2.15,21.4L-0.95,46.7L0.24,21.4zM5.19,-4.0L5.31,-4.0L5.31,55.4L1.15,55.4L1.15,-4.0L1.97,23.4L3.17,50.9L4.36,23.4zM9.31,-4.0L9.43,-4.0L9.43,55.4L5.27,55.4L5.27,-4.0L6.09,25.5L7.29,55.0L8.48,25.5zM13.43,-4.0L13.55,-4.0L13.55,55.4L9.39,55.4L9.39,-4.0L10.21,22.4L11.41,48.8L12.60,22.4zM17.55,-4.0L17.67,-4.0L17.67,55.4L13.51,55.4L13.51,-4.0L14.33,24.5L15.53,52.9L16.72,24.5zM21.67,-4.0L21.79,-4.0L21.79,55.4L17.63,55.4L17.63,-4.0L18.45,21.4L19.65,46.7L20.84,21.4zM25.79,-4.0L25.91,-4.0L25.91,55.4L21.75,55.4L21.75,-4.0L22.57,23.4L23.77,50.9L24.96,23.4zM29.91,-4.0L30.03,-4.0L30.03,55.4L25.87,55.4L25.87,-4.0L26.69,25.5L27.89,55.0L29.08,25.5zM34.03,-4.0L34.15,-4.0L34.15,55.4L29.99,55.4L29.99,-4.0L30.81,22.4L32.01,48.8L33.20,22.4zM38.15,-4.0L38.27,-4.0L38.27,55.4L34.11,55.4L34.11,-4.0L34.94,24.5L36.13,52.9L37.33,24.5zM42.27,-4.0L42.39,-4.0L42.39,55.4L38.23,55.4L38.23,-4.0L39.06,21.4L40.25,46.7L41.45,21.4zM46.39,-4.0L46.51,-4.0L46.51,55.4L42.35,55.4L42.35,-4.0L43.18,23.4L44.37,50.9L45.57,23.4zM50.51,-4.0L50.63,-4.0L50.63,55.4L46.47,55.4L46.47,-4.0L47.30,25.5L48.49,55.0L49.69,25.5zM54.63,-4.0L54.75,-4.0L54.75,55.4L50.59,55.4L50.59,-4.0L51.42,22.4L52.61,48.8L53.81,22.4zM58.75,-4.0L58.87,-4.0L58.87,55.4L54.71,55.4L54.71,-4.0L55.54,24.5L56.73,52.9L57.93,24.5zM62.87,-4.0L62.99,-4.0L62.99,55.4L58.83,55.4L58.83,-4.0L59.66,21.4L60.85,46.7L62.05,21.4zM66.99,-4.0L67.11,-4.0L67.11,55.4L62.95,55.4L62.95,-4.0L63.78,23.4L64.97,50.9L66.17,23.4zM71.11,-4.0L71.23,-4.0L71.23,55.4L67.07,55.4L67.07,-4.0L67.90,25.5L69.09,55.0L70.29,25.5zM75.23,-4.0L75.35,-4.0L75.35,55.4L71.19,55.4L71.19,-4.0L72.02,22.4L73.21,48.8L74.41,22.4zM79.35,-4.0L79.48,-4.0L79.48,55.4L75.31,55.4L75.31,-4.0L76.14,24.5L77.33,52.9L78.53,24.5zM83.47,-4.0L83.60,-4.0L83.60,55.4L79.44,55.4L79.44,-4.0L80.26,21.4L81.45,46.7L82.65,21.4zM87.59,-4.0L87.72,-4.0L87.72,55.4L83.56,55.4L83.56,-4.0L84.38,23.4L85.57,50.9L86.77,23.4zM91.71,-4.0L91.84,-4.0L91.84,55.4L87.68,55.4L87.68,-4.0L88.50,25.5L89.69,55.0L90.89,25.5zM95.83,-4.0L95.96,-4.0L95.96,55.4L91.80,55.4L91.80,-4.0L92.62,22.4L93.82,48.8L95.01,22.4zM99.95,-4.0L100.08,-4.0L100.08,55.4L95.92,55.4L95.92,-4.0L96.74,24.5L97.94,52.9L99.13,24.5zM104.08,-4.0L104.20,-4.0L104.20,55.4L100.04,55.4L100.04,-4.0L100.86,21.4L102.06,46.7L103.25,21.4zM108.20,-4.0L108.32,-4.0L108.32,55.4L104.16,55.4L104.16,-4.0L104.98,23.4L106.18,50.9L107.37,23.4zM112.32,-4.0L112.44,-4.0L112.44,55.4L108.28,55.4L108.28,-4.0L109.10,25.5L110.30,55.0L111.49,25.5zM116.44,-4.0L116.56,-4.0L116.56,55.4L112.40,55.4L112.40,-4.0L113.22,22.4L114.42,48.8L115.61,22.4zM120.56,-4.0L120.68,-4.0L120.68,55.4L116.52,55.4L116.52,-4.0L117.34,24.5L118.54,52.9L119.73,24.5zM124.68,-4.0L124.80,-4.0L124.80,55.4L120.64,55.4L120.64,-4.0L121.46,21.4L122.66,46.7L123.85,21.4zM128.80,-4.0L128.92,-4.0L128.92,55.4L124.76,55.4L124.76,-4.0L125.58,23.4L126.78,50.9L127.97,23.4zM132.92,-4.0L133.04,-4.0L133.04,55.4L128.88,55.4L128.88,-4.0L129.70,25.5L130.90,55.0L132.09,25.5zM137.04,-4.0L137.16,-4.0L137.16,55.4L133.00,55.4L133.00,-4.0L133.82,22.4L135.02,48.8L136.21,22.4zM141.16,-4.0L141.28,-4.0L141.28,55.4L137.12,55.4L137.12,-4.0L137.94,24.5L139.14,52.9L140.33,24.5zM145.28,-4.0L145.40,-4.0L145.40,55.4L141.24,55.4L141.24,-4.0L142.06,21.4L143.26,46.7L144.45,21.4zM149.40,-4.0L149.52,-4.0L149.52,55.4L145.36,55.4L145.36,-4.0L146.19,23.4L147.38,50.9L148.58,23.4zM153.52,-4.0L153.64,-4.0L153.64,55.4L149.48,55.4L149.48,-4.0L150.31,25.5L151.50,55.0L152.70,25.5zM157.64,-4.0L157.76,-4.0L157.76,55.4L153.60,55.4L153.60,-4.0L154.43,22.4L155.62,48.8L156.82,22.4zM161.76,-4.0L161.88,-4.0L161.88,55.4L157.72,55.4L157.72,-4.0L158.55,24.5L159.74,52.9L160.94,24.5zM165.88,-4.0L166.00,-4.0L166.00,55.4L161.84,55.4L161.84,-4.0L162.67,21.4L163.86,46.7L165.06,21.4zM170.00,-4.0L170.12,-4.0L170.12,55.4L165.96,55.4L165.96,-4.0L166.79,23.4L167.98,50.9L169.18,23.4zM174.12,-4.0L174.24,-4.0L174.24,55.4L170.08,55.4L170.08,-4.0L170.91,25.5L172.10,55.0L173.30,25.5zM178.24,-4.0L178.36,-4.0L178.36,55.4L174.20,55.4L174.20,-4.0L175.03,22.4L176.22,48.8L177.42,22.4zM182.36,-4.0L182.48,-4.0L182.48,55.4L178.32,55.4L178.32,-4.0L179.15,24.5L180.34,52.9L181.54,24.5zM186.48,-4.0L186.60,-4.0L186.60,55.4L182.44,55.4L182.44,-4.0L183.27,21.4L184.46,46.7L185.66,21.4zM190.60,-4.0L190.73,-4.0L190.73,55.4L186.56,55.4L186.56,-4.0L187.39,23.4L188.58,50.9L189.78,23.4zM194.72,-4.0L194.85,-4.0L194.85,55.4L190.69,55.4L190.69,-4.0L191.51,25.5L192.70,55.0L193.90,25.5zM198.84,-4.0L198.97,-4.0L198.97,55.4L194.81,55.4L194.81,-4.0L195.63,22.4L196.82,48.8L198.02,22.4zM202.96,-4.0L203.09,-4.0L203.09,55.4L198.93,55.4L198.93,-4.0L199.75,24.5L200.94,52.9L202.14,24.5zM207.08,-4.0L207.21,-4.0L207.21,55.4L203.05,55.4L203.05,-4.0L203.87,21.4L205.07,46.7L206.26,21.4zM211.20,-4.0L211.33,-4.0L211.33,55.4L207.17,55.4L207.17,-4.0L207.99,23.4L209.19,50.9L210.38,23.4zM215.33,-4.0L215.45,-4.0L215.45,55.4L211.29,55.4L211.29,-4.0L212.11,25.5L213.31,55.0L214.50,25.5zM219.45,-4.0L219.57,-4.0L219.57,55.4L215.41,55.4L215.41,-4.0L216.23,22.4L217.43,48.8L218.62,22.4zM223.57,-4.0L223.69,-4.0L223.69,55.4L219.53,55.4L219.53,-4.0L220.35,24.5L221.55,52.9L222.74,24.5zM227.69,-4.0L227.81,-4.0L227.81,55.4L223.65,55.4L223.65,-4.0L224.47,21.4L225.67,46.7L226.86,21.4zM231.81,-4.0L231.93,-4.0L231.93,55.4L227.77,55.4L227.77,-4.0L228.59,23.4L229.79,50.9L230.98,23.4zM235.93,-4.0L236.05,-4.0L236.05,55.4L231.89,55.4L231.89,-4.0L232.71,25.5L233.91,55.0L235.10,25.5zM240.05,-4.0L240.17,-4.0L240.17,55.4L236.01,55.4L236.01,-4.0L236.83,22.4L238.03,48.8L239.22,22.4zM244.17,-4.0L244.29,-4.0L244.29,55.4L240.13,55.4L240.13,-4.0L240.95,24.5L242.15,52.9L243.34,24.5zM248.29,-4.0L248.41,-4.0L248.41,55.4L244.25,55.4L244.25,-4.0L245.07,21.4L246.27,46.7L247.46,21.4zM252.41,-4.0L252.53,-4.0L252.53,55.4L248.37,55.4L248.37,-4.0L249.19,23.4L250.39,50.9L251.58,23.4zM256.53,-4.0L256.65,-4.0L256.65,55.4L252.49,55.4L252.49,-4.0L253.31,25.5L254.51,55.0L255.70,25.5zM260.65,-4.0L260.77,-4.0L260.77,55.4L256.61,55.4L256.61,-4.0L257.44,22.4L258.63,48.8L259.83,22.4zM264.77,-4.0L264.89,-4.0L264.89,55.4L260.73,55.4L260.73,-4.0L261.56,24.5L262.75,52.9L263.95,24.5zM268.89,-4.0L269.01,-4.0L269.01,55.4L264.85,55.4L264.85,-4.0L265.68,21.4L266.87,46.7L268.07,21.4zM273.01,-4.0L273.13,-4.0L273.13,55.4L268.97,55.4L268.97,-4.0L269.80,23.4L270.99,50.9L272.19,23.4zM277.13,-4.0L277.25,-4.0L277.25,55.4L273.09,55.4L273.09,-4.0L273.92,25.5L275.11,55.0L276.31,25.5zM281.25,-4.0L281.37,-4.0L281.37,55.4L277.21,55.4L277.21,-4.0L278.04,22.4L279.23,48.8L280.43,22.4zM285.37,-4.0L285.49,-4.0L285.49,55.4L281.33,55.4L281.33,-4.0L282.16,24.5L283.35,52.9L284.55,24.5zM289.49,-4.0L289.61,-4.0L289.61,55.4L285.45,55.4L285.45,-4.0L286.28,21.4L287.47,46.7L288.67,21.4zM293.61,-4.0L293.73,-4.0L293.73,55.4L289.57,55.4L289.57,-4.0L290.40,23.4L291.59,50.9L292.79,23.4zM297.73,-4.0L297.85,-4.0L297.85,55.4L293.69,55.4L293.69,-4.0L294.52,25.5L295.71,55.0L296.91,25.5zM301.85,-4.0L301.98,-4.0L301.98,55.4L297.81,55.4L297.81,-4.0L298.64,22.4L299.83,48.8L301.03,22.4zM305.97,-4.0L306.10,-4.0L306.10,55.4L301.94,55.4L301.94,-4.0L302.76,24.5L303.95,52.9L305.15,24.5zM310.09,-4.0L310.22,-4.0L310.22,55.4L306.06,55.4L306.06,-4.0L306.88,21.4L308.07,46.7L309.27,21.4zM314.21,-4.0L314.34,-4.0L314.34,55.4L310.18,55.4L310.18,-4.0L311.00,23.4L312.19,50.9L313.39,23.4z" fill="#fff"/>
<rect x="-330" y="55.0" width="660" height="17.0" fill="#fff"/>
</g></g></g>
<path d="M214.4,119.8 L213.2,119.8 Q212.4,119.8 212.4,119 L212.4,108.6 Q212.4,106.6 214.4,106.6 L330,106.6 Q332,106.6 332,108.6 L332,119 Q332,119.8 331.2,119.8 Z" fill="none" stroke="#231815" stroke-width="1.15" />
<line x1="213.50" y1="108.00" x2="331.00" y2="108.00" stroke="#231815" stroke-width="0.92"/>
<line x1="212.40" y1="114.80" x2="332.00" y2="114.80" stroke="#231815" stroke-width="1.26"/>
<path d="M213.4,107.2 Q214.6,104.4 217.6,104.4 L220.6,104.4 Q223.6,104.4 225,106.6" fill="none" stroke="#231815" stroke-width="1.38" />
<path d="M319.4,106.6 Q320.8,104.4 323.8,104.4 L326.8,104.4 Q329.8,104.4 331,107.2" fill="none" stroke="#231815" stroke-width="1.38" />
<line x1="216.40" y1="107.00" x2="216.40" y2="114.80" stroke="#231815" stroke-width="1.03"/>
<line x1="327.60" y1="107.00" x2="327.60" y2="114.80" stroke="#231815" stroke-width="1.03"/>
<line x1="214.40" y1="119.80" x2="214.40" y2="161.50" stroke="#231815" stroke-width="1.15"/>
<line x1="330.00" y1="119.80" x2="330.00" y2="161.50" stroke="#231815" stroke-width="1.15"/>
<line x1="217.60" y1="119.80" x2="217.60" y2="161.50" stroke="#231815" stroke-width="1.03"/>
<line x1="326.60" y1="119.80" x2="326.60" y2="161.50" stroke="#231815" stroke-width="1.03"/>
<line x1="214.40" y1="161.50" x2="330.00" y2="161.50" stroke="#231815" stroke-width="1.15"/>
<path d="M214.40,161.50 L219.40,167.00 L325.00,167.00 L330.00,161.50" fill="none" stroke="#231815" stroke-width="1.15" stroke-linejoin="miter"/>
<line x1="219.80" y1="167.00" x2="219.80" y2="181.46" stroke="#231815" stroke-width="1.15"/>
<line x1="224.00" y1="167.00" x2="224.00" y2="197.44" stroke="#231815" stroke-width="1.03"/>
<line x1="311.80" y1="167.00" x2="311.80" y2="197.72" stroke="#231815" stroke-width="1.03"/>
<line x1="315.90" y1="167.00" x2="315.90" y2="181.68" stroke="#231815" stroke-width="1.15"/>
<rect x="330.00" y="127.20" width="3.40" height="25.80" fill="none" stroke="#231815" stroke-width="1.03"/>
<path d="M333.4,125.8 L348,125.8 Q352,125.8 352,129.8 L352,150.4 Q352,154.4 348,154.4 L333.4,154.4 Z" fill="none" stroke="#231815" stroke-width="1.26" />
<line x1="333.40" y1="138.40" x2="352.00" y2="138.40" stroke="#231815" stroke-width="1.03"/>
<line x1="333.40" y1="141.00" x2="352.00" y2="141.00" stroke="#231815" stroke-width="1.03"/>
<line x1="336.50" y1="125.80" x2="336.50" y2="154.40" stroke="#231815" stroke-width="0.92"/>
<line x1="346.60" y1="125.80" x2="346.60" y2="154.40" stroke="#231815" stroke-width="0.92"/>
<circle cx="267.60" cy="291.20" r="9.00" fill="none" stroke="#231815" stroke-width="1.26"/>
<circle cx="267.60" cy="291.20" r="23.20" fill="none" stroke="#231815" stroke-width="1.95"/>
<circle cx="267.60" cy="291.20" r="46.30" fill="none" stroke="#4a403d" stroke-width="2.64"/>
<circle cx="267.60" cy="291.20" r="96.15" fill="none" stroke="#8f8885" stroke-width="2.99"/>
<circle cx="267.60" cy="291.20" r="94.60" fill="none" stroke="#231815" stroke-width="1.26"/>
<circle cx="267.60" cy="291.20" r="97.70" fill="none" stroke="#231815" stroke-width="1.26"/>
<path d="M320.80,202.65 A103.30,103.30 0 0 0 214.40,202.65" fill="none" stroke="#231815" stroke-width="1.26"/>
<path d="M180.00,236.46 A103.30,103.30 0 0 0 180.00,345.94" fill="none" stroke="#231815" stroke-width="1.26"/>
<path d="M214.40,379.75 A103.30,103.30 0 0 0 320.80,379.75" fill="none" stroke="#231815" stroke-width="1.26"/>
<path d="M355.20,345.94 A103.30,103.30 0 0 0 355.20,236.46" fill="none" stroke="#231815" stroke-width="1.26"/>
<path d="M173.64,220.40 A117.65,117.65 0 0 0 173.64,362.00" fill="none" stroke="#8f8885" stroke-width="3.45"/>
<path d="M172.00,219.16 A119.70,119.70 0 0 0 172.00,363.24" fill="none" stroke="#231815" stroke-width="1.38"/>
<path d="M174.00,220.67 A117.20,117.20 0 0 0 174.00,361.73" fill="none" stroke="#231815" stroke-width="1.03"/>
<path d="M175.28,221.63 A115.60,115.60 0 0 0 175.28,360.77" fill="none" stroke="#231815" stroke-width="1.26"/>
<path d="M361.56,362.00 A117.65,117.65 0 0 0 361.56,220.40" fill="none" stroke="#8f8885" stroke-width="3.45"/>
<path d="M363.20,363.24 A119.70,119.70 0 0 0 363.20,219.16" fill="none" stroke="#231815" stroke-width="1.38"/>
<path d="M361.20,361.73 A117.20,117.20 0 0 0 361.20,220.67" fill="none" stroke="#231815" stroke-width="1.03"/>
<path d="M359.92,360.77 A115.60,115.60 0 0 0 359.92,221.63" fill="none" stroke="#231815" stroke-width="1.26"/>
<path d="M216.40,397.12 A117.65,117.65 0 0 0 318.80,397.12" fill="none" stroke="#8f8885" stroke-width="3.45"/>
<path d="M215.50,398.97 A119.70,119.70 0 0 0 319.70,398.97" fill="none" stroke="#231815" stroke-width="1.38"/>
<path d="M216.59,396.72 A117.20,117.20 0 0 0 318.61,396.72" fill="none" stroke="#231815" stroke-width="1.03"/>
<path d="M217.29,395.28 A115.60,115.60 0 0 0 317.91,395.28" fill="none" stroke="#231815" stroke-width="1.26"/>
<path d="M220.50,183.39 A117.65,117.65 0 0 0 196.14,197.74" fill="none" stroke="#8f8885" stroke-width="3.45"/>
<path d="M219.68,181.51 A119.70,119.70 0 0 0 194.90,196.11" fill="none" stroke="#231815" stroke-width="1.38"/>
<path d="M220.68,183.80 A117.20,117.20 0 0 0 196.42,198.09" fill="none" stroke="#231815" stroke-width="1.03"/>
<path d="M221.48,185.64 A115.20,115.20 0 0 0 197.63,199.68" fill="none" stroke="#231815" stroke-width="1.15"/>
<path d="M339.06,197.74 A117.65,117.65 0 0 0 314.70,183.39" fill="none" stroke="#8f8885" stroke-width="3.45"/>
<path d="M340.30,196.11 A119.70,119.70 0 0 0 315.52,181.51" fill="none" stroke="#231815" stroke-width="1.38"/>
<path d="M338.78,198.09 A117.20,117.20 0 0 0 314.52,183.80" fill="none" stroke="#231815" stroke-width="1.03"/>
<path d="M337.57,199.68 A115.20,115.20 0 0 0 313.72,185.64" fill="none" stroke="#231815" stroke-width="1.15"/>
<path d="M311.07,180.85 A118.60,118.60 0 0 0 224.13,180.85" fill="none" stroke="#231815" stroke-width="1.03" stroke-dasharray="4.5 2.2"/>
<path d="M175.43,365.84 A118.60,118.60 0 0 0 214.68,397.34" fill="none" stroke="#231815" stroke-width="1.03" stroke-dasharray="6 3"/>
<path d="M320.52,397.34 A118.60,118.60 0 0 0 359.77,365.84" fill="none" stroke="#231815" stroke-width="1.03" stroke-dasharray="6 3"/>
<path d="M194.58,197.74 A118.60,118.60 0 0 0 175.43,216.56" fill="none" stroke="#231815" stroke-width="0.92" stroke-dasharray="5 3"/>
<path d="M359.77,216.56 A118.60,118.60 0 0 0 340.62,197.74" fill="none" stroke="#231815" stroke-width="0.92" stroke-dasharray="5 3"/>
<rect x="163.96" y="238.85" width="13.92" height="2.30" fill="#2e2421"/>
<rect x="357.32" y="238.85" width="13.92" height="2.30" fill="#2e2421"/>
<rect x="159.10" y="250.15" width="13.21" height="2.30" fill="#2e2421"/>
<rect x="362.88" y="250.15" width="13.21" height="2.30" fill="#2e2421"/>
<rect x="155.59" y="261.45" width="12.74" height="2.30" fill="#2e2421"/>
<rect x="366.86" y="261.45" width="12.74" height="2.30" fill="#2e2421"/>
<rect x="153.30" y="272.75" width="12.46" height="2.30" fill="#2e2421"/>
<rect x="369.44" y="272.75" width="12.46" height="2.30" fill="#2e2421"/>
<rect x="152.16" y="284.05" width="12.32" height="2.30" fill="#2e2421"/>
<rect x="370.73" y="284.05" width="12.32" height="2.30" fill="#2e2421"/>
<rect x="152.12" y="295.35" width="12.31" height="2.30" fill="#2e2421"/>
<rect x="370.76" y="295.35" width="12.31" height="2.30" fill="#2e2421"/>
<rect x="153.20" y="306.65" width="12.44" height="2.30" fill="#2e2421"/>
<rect x="369.56" y="306.65" width="12.44" height="2.30" fill="#2e2421"/>
<rect x="155.42" y="317.95" width="12.72" height="2.30" fill="#2e2421"/>
<rect x="367.06" y="317.95" width="12.72" height="2.30" fill="#2e2421"/>
<rect x="158.85" y="329.25" width="13.18" height="2.30" fill="#2e2421"/>
<rect x="363.17" y="329.25" width="13.18" height="2.30" fill="#2e2421"/>
<rect x="163.61" y="340.55" width="13.87" height="2.30" fill="#2e2421"/>
<rect x="357.71" y="340.55" width="13.87" height="2.30" fill="#2e2421"/>
<line x1="226.85" y1="180.05" x2="226.85" y2="195.96" stroke="#231815" stroke-width="1.03"/>
<line x1="228.35" y1="180.05" x2="228.35" y2="195.96" stroke="#231815" stroke-width="1.03"/>
<line x1="238.35" y1="176.58" x2="238.35" y2="191.91" stroke="#231815" stroke-width="1.03"/>
<line x1="239.85" y1="176.58" x2="239.85" y2="191.91" stroke="#231815" stroke-width="1.03"/>
<line x1="249.65" y1="174.35" x2="249.65" y2="189.34" stroke="#231815" stroke-width="1.03"/>
<line x1="251.15" y1="174.35" x2="251.15" y2="189.34" stroke="#231815" stroke-width="1.03"/>
<line x1="261.35" y1="173.23" x2="261.35" y2="188.05" stroke="#231815" stroke-width="1.03"/>
<line x1="262.85" y1="173.23" x2="262.85" y2="188.05" stroke="#231815" stroke-width="1.03"/>
<line x1="272.55" y1="173.24" x2="272.55" y2="188.06" stroke="#231815" stroke-width="1.03"/>
<line x1="274.05" y1="173.24" x2="274.05" y2="188.06" stroke="#231815" stroke-width="1.03"/>
<line x1="283.85" y1="174.32" x2="283.85" y2="189.31" stroke="#231815" stroke-width="1.03"/>
<line x1="285.35" y1="174.32" x2="285.35" y2="189.31" stroke="#231815" stroke-width="1.03"/>
<line x1="295.55" y1="176.62" x2="295.55" y2="191.97" stroke="#231815" stroke-width="1.03"/>
<line x1="297.05" y1="176.62" x2="297.05" y2="191.97" stroke="#231815" stroke-width="1.03"/>
<line x1="307.05" y1="180.12" x2="307.05" y2="196.04" stroke="#231815" stroke-width="1.03"/>
<line x1="308.55" y1="180.12" x2="308.55" y2="196.04" stroke="#231815" stroke-width="1.03"/>
<line x1="216.05" y1="381.20" x2="216.05" y2="395.09" stroke="#231815" stroke-width="1.15"/>
<line x1="217.75" y1="381.20" x2="217.75" y2="395.09" stroke="#231815" stroke-width="1.15"/>
<line x1="227.37" y1="386.70" x2="227.37" y2="399.89" stroke="#231815" stroke-width="1.15"/>
<line x1="229.07" y1="386.70" x2="229.07" y2="399.89" stroke="#231815" stroke-width="1.15"/>
<line x1="238.69" y1="390.62" x2="238.69" y2="403.34" stroke="#231815" stroke-width="1.15"/>
<line x1="240.39" y1="390.62" x2="240.39" y2="403.34" stroke="#231815" stroke-width="1.15"/>
<line x1="250.01" y1="393.13" x2="250.01" y2="405.58" stroke="#231815" stroke-width="1.15"/>
<line x1="251.71" y1="393.13" x2="251.71" y2="405.58" stroke="#231815" stroke-width="1.15"/>
<line x1="261.33" y1="394.36" x2="261.33" y2="406.67" stroke="#231815" stroke-width="1.15"/>
<line x1="263.03" y1="394.36" x2="263.03" y2="406.67" stroke="#231815" stroke-width="1.15"/>
<line x1="272.65" y1="394.33" x2="272.65" y2="406.65" stroke="#231815" stroke-width="1.15"/>
<line x1="274.35" y1="394.33" x2="274.35" y2="406.65" stroke="#231815" stroke-width="1.15"/>
<line x1="283.97" y1="393.05" x2="283.97" y2="405.51" stroke="#231815" stroke-width="1.15"/>
<line x1="285.67" y1="393.05" x2="285.67" y2="405.51" stroke="#231815" stroke-width="1.15"/>
<line x1="295.29" y1="390.48" x2="295.29" y2="403.22" stroke="#231815" stroke-width="1.15"/>
<line x1="296.99" y1="390.48" x2="296.99" y2="403.22" stroke="#231815" stroke-width="1.15"/>
<line x1="306.61" y1="386.50" x2="306.61" y2="399.71" stroke="#231815" stroke-width="1.15"/>
<line x1="308.31" y1="386.50" x2="308.31" y2="399.71" stroke="#231815" stroke-width="1.15"/>
<line x1="317.93" y1="380.93" x2="317.93" y2="394.85" stroke="#231815" stroke-width="1.15"/>
<line x1="319.63" y1="380.93" x2="319.63" y2="394.85" stroke="#231815" stroke-width="1.15"/>
<path d="M219.80,196.20 L184.30,196.20 L184.30,202.30 L179.60,208.00 L172.90,208.00 L172.90,238.00" fill="none" stroke="#231815" stroke-width="1.21" stroke-linejoin="miter"/>
<path d="M213.80,203.00 L186.50,203.00" fill="none" stroke="#231815" stroke-width="1.21" stroke-linejoin="miter"/>
<path d="M179.60,208.00 L179.60,238.00" fill="none" stroke="#231815" stroke-width="1.21" stroke-linejoin="miter"/>
<path d="M213.80,196.20 L213.80,203.00" fill="none" stroke="#231815" stroke-width="1.03" stroke-linejoin="miter"/>
<path d="M204.50,196.20 L204.50,203.00" fill="none" stroke="#231815" stroke-width="2.07" stroke-linejoin="miter"/>
<path d="M207.20,196.20 L207.20,203.00" fill="none" stroke="#231815" stroke-width="0.92" stroke-linejoin="miter"/>
<path d="M173.20,238.00 L179.60,238.00" fill="none" stroke="#231815" stroke-width="1.15" stroke-linejoin="miter"/>
<path d="M173.60,229.00 L179.60,229.00" fill="none" stroke="#231815" stroke-width="2.18" stroke-linejoin="miter"/>
<path d="M198.46,214.40 L193.93,220.63 L186.27,219.83 L183.14,212.80 L187.67,206.57 L195.33,207.37 Z" fill="none" stroke="#231815" stroke-width="1.84" stroke-linejoin="miter"/>
<path d="M315.40,196.20 L350.90,196.20 L350.90,202.30 L355.60,208.00 L362.30,208.00 L362.30,238.00" fill="none" stroke="#231815" stroke-width="1.21" stroke-linejoin="miter"/>
<path d="M321.40,203.00 L348.70,203.00" fill="none" stroke="#231815" stroke-width="1.21" stroke-linejoin="miter"/>
<path d="M355.60,208.00 L355.60,238.00" fill="none" stroke="#231815" stroke-width="1.21" stroke-linejoin="miter"/>
<path d="M321.40,196.20 L321.40,203.00" fill="none" stroke="#231815" stroke-width="1.03" stroke-linejoin="miter"/>
<path d="M330.70,196.20 L330.70,203.00" fill="none" stroke="#231815" stroke-width="2.07" stroke-linejoin="miter"/>
<path d="M328.00,196.20 L328.00,203.00" fill="none" stroke="#231815" stroke-width="0.92" stroke-linejoin="miter"/>
<path d="M362.00,238.00 L355.60,238.00" fill="none" stroke="#231815" stroke-width="1.15" stroke-linejoin="miter"/>
<path d="M361.60,229.00 L355.60,229.00" fill="none" stroke="#231815" stroke-width="2.18" stroke-linejoin="miter"/>
<path d="M352.06,212.80 L348.93,219.83 L341.27,220.63 L336.74,214.40 L339.87,207.37 L347.53,206.57 Z" fill="none" stroke="#231815" stroke-width="1.84" stroke-linejoin="miter"/>
<path d="M219.80,386.20 L184.30,386.20 L184.30,380.10 L179.60,374.40 L172.90,374.40 L172.90,344.40" fill="none" stroke="#231815" stroke-width="1.21" stroke-linejoin="miter"/>
<path d="M213.80,379.40 L186.50,379.40" fill="none" stroke="#231815" stroke-width="1.21" stroke-linejoin="miter"/>
<path d="M179.60,374.40 L179.60,344.40" fill="none" stroke="#231815" stroke-width="1.21" stroke-linejoin="miter"/>
<path d="M213.80,386.20 L213.80,379.40" fill="none" stroke="#231815" stroke-width="1.03" stroke-linejoin="miter"/>
<path d="M204.50,386.20 L204.50,379.40" fill="none" stroke="#231815" stroke-width="2.07" stroke-linejoin="miter"/>
<path d="M207.20,386.20 L207.20,379.40" fill="none" stroke="#231815" stroke-width="0.92" stroke-linejoin="miter"/>
<path d="M173.20,344.40 L179.60,344.40" fill="none" stroke="#231815" stroke-width="1.15" stroke-linejoin="miter"/>
<path d="M173.60,353.40 L179.60,353.40" fill="none" stroke="#231815" stroke-width="2.18" stroke-linejoin="miter"/>
<path d="M197.47,372.65 L190.80,376.50 L184.13,372.65 L184.13,364.95 L190.80,361.10 L197.47,364.95 Z" fill="none" stroke="#231815" stroke-width="1.84" stroke-linejoin="miter"/>
<path d="M315.40,386.20 L350.90,386.20 L350.90,380.10 L355.60,374.40 L362.30,374.40 L362.30,344.40" fill="none" stroke="#231815" stroke-width="1.21" stroke-linejoin="miter"/>
<path d="M321.40,379.40 L348.70,379.40" fill="none" stroke="#231815" stroke-width="1.21" stroke-linejoin="miter"/>
<path d="M355.60,374.40 L355.60,344.40" fill="none" stroke="#231815" stroke-width="1.21" stroke-linejoin="miter"/>
<path d="M321.40,386.20 L321.40,379.40" fill="none" stroke="#231815" stroke-width="1.03" stroke-linejoin="miter"/>
<path d="M330.70,386.20 L330.70,379.40" fill="none" stroke="#231815" stroke-width="2.07" stroke-linejoin="miter"/>
<path d="M328.00,386.20 L328.00,379.40" fill="none" stroke="#231815" stroke-width="0.92" stroke-linejoin="miter"/>
<path d="M362.00,344.40 L355.60,344.40" fill="none" stroke="#231815" stroke-width="1.15" stroke-linejoin="miter"/>
<path d="M361.60,353.40 L355.60,353.40" fill="none" stroke="#231815" stroke-width="2.18" stroke-linejoin="miter"/>
<path d="M351.07,372.65 L344.40,376.50 L337.73,372.65 L337.73,364.95 L344.40,361.10 L351.07,364.95 Z" fill="none" stroke="#231815" stroke-width="1.84" stroke-linejoin="miter"/>
<line x1="217.00" y1="291.20" x2="434.00" y2="291.20" stroke="#231815" stroke-width="1.03"/>
<line x1="267.60" y1="240.00" x2="267.60" y2="341.50" stroke="#231815" stroke-width="1.03"/>
<path d="M277.16,259.93 A32.70,32.70 0 0 0 258.04,259.93" fill="none" stroke="#231815" stroke-width="1.03"/>
<path d="M258.04,322.47 A32.70,32.70 0 0 0 277.16,322.47" fill="none" stroke="#231815" stroke-width="1.03"/>
<path d="M298.70,301.30 A32.70,32.70 0 0 0 300.12,294.62" fill="none" stroke="#231815" stroke-width="1.03"/>
<path d="M300.12,287.78 A32.70,32.70 0 0 0 298.61,280.82" fill="none" stroke="#231815" stroke-width="1.03"/>
<path d="M236.50,281.10 A32.70,32.70 0 0 0 235.08,287.78" fill="none" stroke="#231815" stroke-width="1.03"/>
<path d="M235.08,294.62 A32.70,32.70 0 0 0 236.59,301.58" fill="none" stroke="#231815" stroke-width="1.03"/>
<circle cx="290.72" cy="268.08" r="3.20" fill="none" stroke="#231815" stroke-width="1.15"/>
<line x1="285.56" y1="262.92" x2="295.88" y2="273.24" stroke="#231815" stroke-width="0.98"/>
<circle cx="244.48" cy="268.08" r="3.20" fill="none" stroke="#231815" stroke-width="1.15"/>
<line x1="239.32" y1="273.24" x2="249.64" y2="262.92" stroke="#231815" stroke-width="0.98"/>
<circle cx="244.48" cy="314.32" r="3.20" fill="none" stroke="#231815" stroke-width="1.15"/>
<line x1="249.64" y1="319.48" x2="239.32" y2="309.16" stroke="#231815" stroke-width="0.98"/>
<circle cx="290.72" cy="314.32" r="3.20" fill="none" stroke="#231815" stroke-width="1.15"/>
<line x1="295.88" y1="309.16" x2="285.56" y2="319.48" stroke="#231815" stroke-width="0.98"/>
<path d="M215.50,385.20 L215.50,413.30 L152.70,413.30 L152.70,393.80 L177.40,383.40 L179.20,384.90 L179.20,385.20 L215.50,385.20" fill="none" stroke="#231815" stroke-width="1.26" stroke-linejoin="miter"/>
<path d="M152.70,397.40 L197.30,397.40 L197.30,413.30" fill="none" stroke="#231815" stroke-width="1.26" stroke-linejoin="miter"/>
<line x1="156.10" y1="397.40" x2="156.10" y2="413.30" stroke="#231815" stroke-width="1.03"/>
<line x1="186.30" y1="385.20" x2="186.30" y2="397.40" stroke="#231815" stroke-width="0.92"/>
<line x1="188.20" y1="385.20" x2="188.20" y2="397.40" stroke="#231815" stroke-width="0.92"/>
<line x1="179.60" y1="374.00" x2="184.50" y2="379.80" stroke="#231815" stroke-width="1.03"/>
<path d="M319.70,385.20 L319.70,413.30 L382.50,413.30 L382.50,393.80 L357.80,383.40 L356.00,384.90 L356.00,385.20 L319.70,385.20" fill="none" stroke="#231815" stroke-width="1.26" stroke-linejoin="miter"/>
<path d="M382.50,397.40 L337.90,397.40 L337.90,413.30" fill="none" stroke="#231815" stroke-width="1.26" stroke-linejoin="miter"/>
<line x1="379.10" y1="397.40" x2="379.10" y2="413.30" stroke="#231815" stroke-width="1.03"/>
<line x1="348.90" y1="385.20" x2="348.90" y2="397.40" stroke="#231815" stroke-width="0.92"/>
<line x1="347.00" y1="385.20" x2="347.00" y2="397.40" stroke="#231815" stroke-width="0.92"/>
<line x1="355.60" y1="374.00" x2="350.70" y2="379.80" stroke="#231815" stroke-width="1.03"/>
<path d="M785.3,123.4 L784.4,123.4 Q783.6,123.4 783.6,122.6 L783.6,112.4 Q783.6,110.4 785.6,110.4 L893.6,110.4 Q895.6,110.4 895.6,112.4 L895.6,122.6 Q895.6,123.4 894.8,123.4 Z" fill="none" stroke="#231815" stroke-width="1.38" />
<line x1="784.50" y1="112.00" x2="894.80" y2="112.00" stroke="#231815" stroke-width="1.03"/>
<line x1="783.60" y1="119.40" x2="895.60" y2="119.40" stroke="#231815" stroke-width="1.26"/>
<path d="M784.6,111 Q785.8,108.6 788.6,108.6 L791.6,108.6 Q794.4,108.6 796,110.4" fill="none" stroke="#231815" stroke-width="1.38" />
<path d="M883.2,110.4 Q884.8,108.6 887.6,108.6 L890.6,108.6 Q893.4,108.6 894.6,111" fill="none" stroke="#231815" stroke-width="1.38" />
<line x1="787.40" y1="111.40" x2="787.40" y2="119.40" stroke="#231815" stroke-width="1.03"/>
<line x1="891.80" y1="111.40" x2="891.80" y2="119.40" stroke="#231815" stroke-width="1.03"/>
<line x1="785.80" y1="123.40" x2="785.80" y2="165.60" stroke="#231815" stroke-width="1.26"/>
<line x1="893.60" y1="123.40" x2="893.60" y2="165.60" stroke="#231815" stroke-width="1.26"/>
<line x1="789.40" y1="123.40" x2="789.40" y2="165.60" stroke="#231815" stroke-width="1.03"/>
<line x1="890.20" y1="123.40" x2="890.20" y2="165.60" stroke="#231815" stroke-width="1.03"/>
<line x1="785.80" y1="165.60" x2="893.60" y2="165.60" stroke="#231815" stroke-width="1.26"/>
<path d="M785.80,165.60 L791.60,171.70 L887.60,171.70 L893.60,165.60" fill="none" stroke="#231815" stroke-width="1.26" stroke-linejoin="miter"/>
<line x1="792.40" y1="171.70" x2="792.40" y2="189.50" stroke="#231815" stroke-width="1.15"/>
<line x1="795.60" y1="171.70" x2="795.60" y2="196.00" stroke="#231815" stroke-width="1.03"/>
<line x1="883.80" y1="171.70" x2="883.80" y2="189.50" stroke="#231815" stroke-width="1.03"/>
<line x1="887.10" y1="171.70" x2="887.10" y2="190.00" stroke="#231815" stroke-width="1.15"/>
<line x1="814.00" y1="189.50" x2="887.10" y2="189.50" stroke="#231815" stroke-width="1.26"/>
<path d="M831.40,144.40 L824.30,156.70 L810.10,156.70 L803.00,144.40 L810.10,132.10 L824.30,132.10 Z" fill="none" stroke="#231815" stroke-width="1.55" stroke-linejoin="miter"/>
<circle cx="817.20" cy="144.40" r="9.40" fill="none" stroke="#231815" stroke-width="1.38"/>
<circle cx="817.20" cy="144.40" r="6.60" fill="none" stroke="#231815" stroke-width="1.15"/>
<circle cx="817.20" cy="144.40" r="4.00" fill="none" stroke="#231815" stroke-width="1.26"/>
<line x1="811.70" y1="144.40" x2="822.70" y2="144.40" stroke="#231815" stroke-width="0.92"/>
<line x1="817.20" y1="138.90" x2="817.20" y2="149.90" stroke="#231815" stroke-width="0.92"/>
<path d="M873.70,151.50 L861.40,158.60 L849.10,151.50 L849.10,137.30 L861.40,130.20 L873.70,137.30 Z" fill="none" stroke="#231815" stroke-width="1.55" stroke-linejoin="miter"/>
<circle cx="861.40" cy="144.40" r="9.40" fill="none" stroke="#231815" stroke-width="1.38"/>
<circle cx="861.40" cy="144.40" r="6.60" fill="none" stroke="#231815" stroke-width="1.15"/>
<circle cx="861.40" cy="144.40" r="4.00" fill="none" stroke="#231815" stroke-width="1.95"/>
<rect x="784.00" y="177.40" width="8.40" height="12.10" fill="none" stroke="#231815" stroke-width="1.03"/>
<line x1="784.00" y1="180.30" x2="792.40" y2="180.30" stroke="#231815" stroke-width="0.92"/>
<line x1="784.00" y1="183.30" x2="792.40" y2="183.30" stroke="#231815" stroke-width="0.92"/>
<line x1="784.00" y1="186.30" x2="792.40" y2="186.30" stroke="#231815" stroke-width="0.92"/>
<rect x="792.40" y="188.80" width="21.10" height="7.20" fill="none" stroke="#231815" stroke-width="1.15"/>
<line x1="797.50" y1="188.80" x2="797.50" y2="196.00" stroke="#231815" stroke-width="0.92"/>
<line x1="801.50" y1="188.80" x2="801.50" y2="196.00" stroke="#231815" stroke-width="0.92"/>
<line x1="805.50" y1="188.80" x2="805.50" y2="196.00" stroke="#231815" stroke-width="0.92"/>
<line x1="809.50" y1="188.80" x2="809.50" y2="196.00" stroke="#231815" stroke-width="0.92"/>
<circle cx="921.60" cy="152.40" r="12.00" fill="none" stroke="#231815" stroke-width="1.26"/>
<path d="M930.80,169.71 A19.60,19.60 0 0 0 919.89,132.87" fill="none" stroke="#231815" stroke-width="1.15"/>
<path d="M915.20,175.60 L916.20,164.60 L927.00,164.60 L928.00,175.60" fill="none" stroke="#231815" stroke-width="1.15" stroke-linejoin="miter"/>
<line x1="914.50" y1="164.20" x2="928.60" y2="164.20" stroke="#231815" stroke-width="1.03"/>
<path d="M906.00,177.80 L907.40,175.60 L935.80,175.60 L937.20,177.80" fill="none" stroke="#231815" stroke-width="1.15" stroke-linejoin="miter"/>
<line x1="913.60" y1="169.00" x2="913.60" y2="175.60" stroke="#231815" stroke-width="1.03"/>
<line x1="921.60" y1="148.00" x2="921.60" y2="212.00" stroke="#231815" stroke-width="0.92" stroke-dasharray="14 3 3 3"/>
<line x1="887.10" y1="178.00" x2="1014.40" y2="178.00" stroke="#231815" stroke-width="1.84"/>
<line x1="887.10" y1="182.30" x2="1014.40" y2="182.30" stroke="#231815" stroke-width="0.92"/>
<line x1="887.10" y1="186.00" x2="1014.40" y2="186.00" stroke="#231815" stroke-width="1.03"/>
<line x1="887.10" y1="190.00" x2="1014.40" y2="190.00" stroke="#231815" stroke-width="1.03"/>
<line x1="1014.40" y1="178.00" x2="1014.40" y2="193.00" stroke="#231815" stroke-width="1.15"/>
<line x1="813.50" y1="201.40" x2="826.60" y2="201.40" stroke="#231815" stroke-width="1.15"/>
<line x1="846.30" y1="201.40" x2="951.60" y2="201.40" stroke="#231815" stroke-width="1.15"/>
<line x1="971.60" y1="201.40" x2="1001.00" y2="201.40" stroke="#231815" stroke-width="1.15"/>
<line x1="846.30" y1="218.40" x2="951.60" y2="218.40" stroke="#231815" stroke-width="1.03"/>
<path d="M826.60,212.60 L826.60,201.40 L846.30,201.40 L846.30,243.20" fill="none" stroke="#231815" stroke-width="1.15" stroke-linejoin="miter"/>
<line x1="826.60" y1="212.60" x2="846.30" y2="212.60" stroke="#231815" stroke-width="1.03"/>
<line x1="826.60" y1="207.00" x2="846.30" y2="207.00" stroke="#231815" stroke-width="1.03"/>
<line x1="836.45" y1="194.00" x2="836.45" y2="253.00" stroke="#231815" stroke-width="0.92" stroke-dasharray="12 3 26 3 12"/>
<circle cx="836.45" cy="223.20" r="7.90" fill="none" stroke="#231815" stroke-width="1.15"/>
<circle cx="836.45" cy="223.20" r="5.30" fill="none" stroke="#231815" stroke-width="2.07"/>
<circle cx="836.45" cy="223.20" r="3.00" fill="none" stroke="#231815" stroke-width="0.92"/>
<line x1="831.45" y1="223.20" x2="841.45" y2="223.20" stroke="#231815" stroke-width="0.92"/>
<rect x="951.60" y="201.40" width="20.00" height="41.80" fill="none" stroke="#231815" stroke-width="1.15"/>
<line x1="951.60" y1="207.00" x2="971.60" y2="207.00" stroke="#231815" stroke-width="1.03"/>
<line x1="961.60" y1="194.00" x2="961.60" y2="253.00" stroke="#231815" stroke-width="0.92" stroke-dasharray="12 3 26 3 12"/>
<circle cx="961.60" cy="223.20" r="7.90" fill="none" stroke="#231815" stroke-width="1.15"/>
<circle cx="961.60" cy="223.20" r="5.30" fill="none" stroke="#231815" stroke-width="2.07"/>
<circle cx="961.60" cy="223.20" r="3.00" fill="none" stroke="#231815" stroke-width="0.92"/>
<line x1="956.60" y1="223.20" x2="966.60" y2="223.20" stroke="#231815" stroke-width="0.92"/>
<rect x="826.60" y="348.40" width="19.70" height="38.80" fill="none" stroke="#231815" stroke-width="1.15"/>
<line x1="826.60" y1="380.40" x2="846.30" y2="380.40" stroke="#231815" stroke-width="1.03"/>
<circle cx="836.45" cy="367.60" r="7.90" fill="none" stroke="#231815" stroke-width="1.15"/>
<circle cx="836.45" cy="367.60" r="5.30" fill="none" stroke="#231815" stroke-width="2.07"/>
<circle cx="836.45" cy="367.60" r="3.00" fill="none" stroke="#231815" stroke-width="0.92"/>
<rect x="951.60" y="348.40" width="20.00" height="38.80" fill="none" stroke="#231815" stroke-width="1.15"/>
<line x1="951.60" y1="380.40" x2="971.60" y2="380.40" stroke="#231815" stroke-width="1.03"/>
<circle cx="961.60" cy="367.60" r="7.90" fill="none" stroke="#231815" stroke-width="1.15"/>
<circle cx="961.60" cy="367.60" r="5.30" fill="none" stroke="#231815" stroke-width="2.07"/>
<circle cx="961.60" cy="367.60" r="3.00" fill="none" stroke="#231815" stroke-width="0.92"/>
<line x1="806.50" y1="223.20" x2="820.00" y2="223.20" stroke="#231815" stroke-width="0.92"/>
<line x1="850.00" y1="223.20" x2="866.00" y2="223.20" stroke="#231815" stroke-width="0.92"/>
<line x1="932.00" y1="223.20" x2="948.00" y2="223.20" stroke="#231815" stroke-width="0.92"/>
<line x1="974.00" y1="223.20" x2="991.00" y2="223.20" stroke="#231815" stroke-width="0.92"/>
<path d="M814,215.6 L821,215.6 Q823,215.6 823,217.6 L823,228.6 Q823,230.6 821,230.6 L814,230.6" fill="none" stroke="#231815" stroke-width="1.03" />
<rect x="846.30" y="231.40" width="105.30" height="3.20" fill="#231815"/>
<rect x="971.60" y="231.40" width="42.80" height="3.20" fill="#231815"/>
<rect x="814.00" y="243.10" width="200.40" height="2.20" fill="#231815"/>
<rect x="814.00" y="253.95" width="200.40" height="3.30" fill="#231815"/>
<rect x="814.00" y="265.15" width="200.40" height="3.30" fill="#231815"/>
<rect x="814.00" y="276.55" width="200.40" height="3.30" fill="#231815"/>
<rect x="814.00" y="287.75" width="200.40" height="3.30" fill="#231815"/>
<line x1="784.20" y1="300.20" x2="1014.40" y2="300.20" stroke="#231815" stroke-width="1.03"/>
<line x1="784.20" y1="302.40" x2="1014.40" y2="302.40" stroke="#231815" stroke-width="1.03"/>
<rect x="784.20" y="311.10" width="230.20" height="3.20" fill="#231815"/>
<rect x="784.20" y="322.40" width="230.20" height="2.60" fill="#231815"/>
<rect x="784.20" y="333.80" width="230.20" height="3.20" fill="#231815"/>
<rect x="784.20" y="345.40" width="230.20" height="3.60" fill="#231815"/>
<rect x="866" y="287.2" width="12" height="4.4" rx="2.2" fill="#fff" stroke="#231815" stroke-width="0.8"/>
<rect x="919.6" y="287.2" width="12" height="4.4" rx="2.2" fill="#fff" stroke="#231815" stroke-width="0.8"/>
<line x1="813.80" y1="196.00" x2="813.80" y2="295.50" stroke="#231815" stroke-width="1.15"/>
<line x1="1007.00" y1="248.00" x2="1007.00" y2="343.00" stroke="#231815" stroke-width="0.92"/>
<line x1="1009.60" y1="248.00" x2="1009.60" y2="343.00" stroke="#231815" stroke-width="0.92"/>
<rect x="1001.00" y="207.00" width="18.00" height="41.00" fill="none" stroke="#231815" stroke-width="1.15"/>
<line x1="1001.00" y1="217.60" x2="1019.00" y2="217.60" stroke="#231815" stroke-width="1.03"/>
<rect x="1001.00" y="248.00" width="6.00" height="4.50" fill="none" stroke="#231815" stroke-width="0.92"/>
<rect x="1001.00" y="348.40" width="18.00" height="35.60" fill="none" stroke="#231815" stroke-width="1.15"/>
<line x1="1001.00" y1="373.60" x2="1019.00" y2="373.60" stroke="#231815" stroke-width="1.03"/>
<rect x="1001.00" y="343.00" width="6.00" height="5.40" fill="none" stroke="#231815" stroke-width="0.92"/>
<circle cx="1023.60" cy="211.60" r="2.50" fill="none" stroke="#231815" stroke-width="1.61"/>
<circle cx="1023.60" cy="381.00" r="2.50" fill="none" stroke="#231815" stroke-width="1.61"/>
<path d="M1019.00,175.60 L1078.00,175.60 L1078.00,415.60 L1019.00,415.60 Z" fill="none" stroke="#231815" stroke-width="1.26" stroke-linejoin="miter"/>
<path d="M1080.00,177.00 L1126.00,177.00 L1148.40,199.50 L1148.40,391.00 L1126.00,413.20 L1080.00,413.20 Z" fill="none" stroke="#231815" stroke-width="1.26" stroke-linejoin="miter"/>
<line x1="1123.60" y1="177.00" x2="1123.60" y2="413.20" stroke="#231815" stroke-width="1.03"/>
<line x1="1126.00" y1="177.00" x2="1126.00" y2="413.20" stroke="#231815" stroke-width="0.92"/>
<line x1="1078.00" y1="175.60" x2="1078.00" y2="415.60" stroke="#231815" stroke-width="1.15"/>
<line x1="1002.00" y1="295.50" x2="1150.00" y2="295.50" stroke="#231815" stroke-width="0.92" stroke-dasharray="58 6 12 6 200"/>
<line x1="705.00" y1="295.50" x2="813.50" y2="295.50" stroke="#231815" stroke-width="1.15"/>
<line x1="846.30" y1="348.40" x2="951.60" y2="348.40" stroke="#231815" stroke-width="1.15"/>
<line x1="971.60" y1="348.40" x2="1001.00" y2="348.40" stroke="#231815" stroke-width="1.15"/>
<line x1="784.20" y1="348.40" x2="826.60" y2="348.40" stroke="#231815" stroke-width="1.15"/>
<line x1="784.20" y1="357.80" x2="826.60" y2="357.80" stroke="#231815" stroke-width="0.92"/>
<line x1="846.30" y1="357.80" x2="951.60" y2="357.80" stroke="#231815" stroke-width="0.92"/>
<line x1="971.60" y1="357.80" x2="1014.00" y2="357.80" stroke="#231815" stroke-width="1.61"/>
<line x1="846.30" y1="372.60" x2="951.60" y2="372.60" stroke="#231815" stroke-width="0.92"/>
<line x1="971.60" y1="372.60" x2="1001.00" y2="372.60" stroke="#231815" stroke-width="0.92"/>
<line x1="797.00" y1="372.60" x2="826.60" y2="372.60" stroke="#231815" stroke-width="0.92"/>
<line x1="868.00" y1="352.40" x2="927.00" y2="352.40" stroke="#231815" stroke-width="1.03" stroke-dasharray="4 3"/>
<line x1="951.60" y1="352.40" x2="1014.00" y2="352.40" stroke="#231815" stroke-width="1.03" stroke-dasharray="5 3.5"/>
<line x1="897.60" y1="326.00" x2="897.60" y2="383.00" stroke="#231815" stroke-width="0.92" stroke-dasharray="10 4"/>
<line x1="982.40" y1="330.00" x2="982.40" y2="383.00" stroke="#231815" stroke-width="0.92" stroke-dasharray="10 4"/>
<line x1="820.00" y1="387.80" x2="979.00" y2="387.80" stroke="#231815" stroke-width="1.84"/>
<line x1="820.00" y1="398.20" x2="979.00" y2="398.20" stroke="#231815" stroke-width="1.03"/>
<path d="M784.40,385.00 L784.40,417.60 L1013.40,417.60" fill="none" stroke="#231815" stroke-width="1.15" stroke-linejoin="miter"/>
<path d="M784.40,402.40 L820.00,402.40 L820.00,387.80" fill="none" stroke="#231815" stroke-width="1.15" stroke-linejoin="miter"/>
<line x1="805.50" y1="402.40" x2="820.00" y2="390.00" stroke="#231815" stroke-width="1.03"/>
<line x1="788.00" y1="402.40" x2="788.00" y2="417.60" stroke="#231815" stroke-width="1.03"/>
<path d="M979.00,387.80 L979.00,402.40 L1014.00,402.40" fill="none" stroke="#231815" stroke-width="1.15" stroke-linejoin="miter"/>
<line x1="979.00" y1="390.00" x2="992.00" y2="402.40" stroke="#231815" stroke-width="1.03"/>
<line x1="1009.60" y1="402.40" x2="1009.60" y2="417.60" stroke="#231815" stroke-width="0.92"/>
<line x1="1013.40" y1="384.00" x2="1013.40" y2="417.60" stroke="#231815" stroke-width="1.03"/>
<rect x="705.60" y="295.50" width="2.80" height="96.10" fill="#231815"/>
<line x1="706.60" y1="199.40" x2="706.60" y2="295.50" stroke="#231815" stroke-width="1.49"/>
<path d="M706.00,391.60 L756.00,391.60 L756.00,295.50" fill="none" stroke="#231815" stroke-width="1.15" stroke-linejoin="miter"/>
<line x1="758.00" y1="295.50" x2="758.00" y2="399.60" stroke="#231815" stroke-width="1.03"/>
<line x1="767.60" y1="295.50" x2="767.60" y2="399.60" stroke="#231815" stroke-width="0.92"/>
<line x1="770.00" y1="295.50" x2="770.00" y2="399.60" stroke="#231815" stroke-width="1.15"/>
<line x1="779.00" y1="295.50" x2="779.00" y2="399.60" stroke="#231815" stroke-width="1.03"/>
<line x1="756.00" y1="399.60" x2="784.40" y2="399.60" stroke="#231815" stroke-width="1.15"/>
<line x1="756.00" y1="391.60" x2="756.00" y2="399.60" stroke="#231815" stroke-width="1.03"/>
<rect x="750.40" y="366.00" width="5.60" height="14.00" fill="none" stroke="#231815" stroke-width="1.15"/>
<line x1="758.00" y1="350.60" x2="779.00" y2="350.60" stroke="#231815" stroke-width="1.03"/>
<line x1="758.00" y1="375.60" x2="779.00" y2="375.60" stroke="#231815" stroke-width="1.03"/>
<line x1="758.00" y1="384.00" x2="784.40" y2="384.00" stroke="#231815" stroke-width="1.03"/>
<rect x="779.00" y="350.60" width="17.50" height="33.40" fill="none" stroke="#231815" stroke-width="1.03"/>
<rect x="784.40" y="343.00" width="12.10" height="7.60" fill="none" stroke="#231815" stroke-width="0.92"/>
<line x1="788.90" y1="295.50" x2="788.90" y2="343.00" stroke="#231815" stroke-width="0.92"/>
<line x1="790.70" y1="295.50" x2="790.70" y2="343.00" stroke="#231815" stroke-width="0.92"/>
<line x1="784.40" y1="358.50" x2="796.50" y2="358.50" stroke="#231815" stroke-width="1.38"/>
<path d="M706.80,199.40 L757.20,199.40 L757.20,191.10 L768.40,191.10 L769.40,195.60 L773.70,195.60 L773.70,259.20" fill="none" stroke="#231815" stroke-width="1.15" stroke-linejoin="miter"/>
<path d="M718.50,209.00 L721.00,206.50 L771.00,206.50" fill="none" stroke="#231815" stroke-width="1.15" stroke-linejoin="miter"/>
<line x1="772.20" y1="206.50" x2="772.20" y2="259.20" stroke="#231815" stroke-width="2.30"/>
<line x1="716.60" y1="222.00" x2="716.60" y2="295.50" stroke="#231815" stroke-width="0.92"/>
<line x1="719.60" y1="208.00" x2="719.60" y2="295.50" stroke="#231815" stroke-width="2.18"/>
<line x1="714.40" y1="199.40" x2="714.40" y2="295.50" stroke="#231815" stroke-width="0.92"/>
<path d="M721.30,259.20 L779.50,259.20 L779.50,279.40" fill="none" stroke="#231815" stroke-width="1.15" stroke-linejoin="miter"/>
<path d="M813.50,279.40 L741.50,279.40 L741.50,295.50" fill="none" stroke="#231815" stroke-width="1.15" stroke-linejoin="miter"/>
<line x1="721.30" y1="286.40" x2="741.50" y2="286.40" stroke="#231815" stroke-width="1.15"/>
<line x1="706.80" y1="272.40" x2="714.40" y2="272.40" stroke="#231815" stroke-width="1.03"/>
<line x1="707.30" y1="213.70" x2="720.80" y2="200.10" stroke="#231815" stroke-width="1.15"/>
<line x1="732.80" y1="206.50" x2="739.50" y2="199.60" stroke="#231815" stroke-width="1.15"/>
<line x1="752.00" y1="206.50" x2="767.30" y2="191.50" stroke="#231815" stroke-width="1.15"/>
<line x1="707.00" y1="232.00" x2="718.00" y2="221.00" stroke="#231815" stroke-width="1.15"/>
<line x1="707.00" y1="251.00" x2="718.00" y2="240.00" stroke="#231815" stroke-width="1.15"/>
<line x1="707.00" y1="270.00" x2="718.00" y2="259.00" stroke="#231815" stroke-width="1.15"/>
<line x1="707.00" y1="289.00" x2="714.00" y2="282.00" stroke="#231815" stroke-width="1.15"/>
<line x1="722.00" y1="270.50" x2="733.00" y2="259.50" stroke="#231815" stroke-width="1.15"/>
<line x1="722.00" y1="286.40" x2="749.00" y2="259.50" stroke="#231815" stroke-width="1.15"/>
<line x1="748.50" y1="279.40" x2="768.00" y2="259.50" stroke="#231815" stroke-width="1.15"/>
<line x1="767.00" y1="279.40" x2="779.50" y2="267.00" stroke="#231815" stroke-width="1.15"/>
<line x1="759.00" y1="279.40" x2="775.00" y2="295.50" stroke="#231815" stroke-width="1.15"/>
<line x1="778.00" y1="279.40" x2="794.00" y2="295.50" stroke="#231815" stroke-width="1.15"/>
<line x1="797.00" y1="279.40" x2="813.00" y2="295.50" stroke="#231815" stroke-width="1.15"/>
<path d="M773.70,225.00 L782.50,234.00 L784.50,248.00 L787.00,250.50 L800.00,250.50 L803.50,254.00 L803.50,278.00" fill="none" stroke="#231815" stroke-width="1.15" stroke-linejoin="miter"/>
<path d="M776.00,243.50 L781.00,243.50 L781.00,252.00 L786.00,257.00" fill="none" stroke="#231815" stroke-width="1.03" stroke-linejoin="miter"/>
<path d="M780.00,196.00 L780.00,222.00 L784.00,226.50 L784.00,203.00 L788.00,196.00" fill="none" stroke="#231815" stroke-width="1.03" stroke-linejoin="miter"/>
<rect x="786.00" y="256.90" width="18.80" height="21.10" fill="none" stroke="#231815" stroke-width="1.15"/>
<path d="M773.70,195.60 L777.00,193.20 L784.00,193.20 L786.00,196.00 L813.50,196.00" fill="none" stroke="#231815" stroke-width="1.03" stroke-linejoin="miter"/>
<line x1="788.00" y1="196.00" x2="788.00" y2="248.00" stroke="#231815" stroke-width="1.38"/>
<line x1="773.70" y1="206.50" x2="780.00" y2="212.50" stroke="#231815" stroke-width="0.92"/>
<line x1="804.80" y1="278.00" x2="813.50" y2="278.00" stroke="#231815" stroke-width="0.92"/>
<rect x="1356.40" y="177.40" width="209.00" height="8.80" fill="none" stroke="#231815" stroke-width="1.26"/>
<line x1="1363.00" y1="177.40" x2="1363.00" y2="186.20" stroke="#231815" stroke-width="1.03"/>
<line x1="1372.40" y1="177.40" x2="1372.40" y2="186.20" stroke="#231815" stroke-width="1.03"/>
<line x1="1374.20" y1="177.40" x2="1374.20" y2="186.20" stroke="#231815" stroke-width="1.03"/>
<line x1="1381.00" y1="177.40" x2="1381.00" y2="186.20" stroke="#231815" stroke-width="1.03"/>
<line x1="1405.00" y1="177.40" x2="1405.00" y2="186.20" stroke="#231815" stroke-width="1.03"/>
<line x1="1516.00" y1="177.40" x2="1516.00" y2="186.20" stroke="#231815" stroke-width="1.03"/>
<line x1="1541.00" y1="177.40" x2="1541.00" y2="186.20" stroke="#231815" stroke-width="1.03"/>
<line x1="1548.00" y1="177.40" x2="1548.00" y2="186.20" stroke="#231815" stroke-width="1.03"/>
<line x1="1558.00" y1="177.40" x2="1558.00" y2="186.20" stroke="#231815" stroke-width="1.03"/>
<rect x="1357.60" y="186.20" width="25.40" height="6.40" fill="none" stroke="#231815" stroke-width="1.03"/>
<rect x="1539.00" y="186.20" width="25.40" height="6.40" fill="none" stroke="#231815" stroke-width="1.03"/>
<line x1="1372.40" y1="186.20" x2="1372.40" y2="192.60" stroke="#231815" stroke-width="0.92"/>
<line x1="1549.40" y1="186.20" x2="1549.40" y2="192.60" stroke="#231815" stroke-width="0.92"/>
<rect x="1358.00" y="422.40" width="25.00" height="4.60" fill="none" stroke="#231815" stroke-width="0.92"/>
<rect x="1539.00" y="422.40" width="25.00" height="4.60" fill="none" stroke="#231815" stroke-width="0.92"/>
<rect x="1408.00" y="422.40" width="105.00" height="4.60" fill="none" stroke="#231815" stroke-width="1.03"/>
<line x1="1372.00" y1="422.40" x2="1372.00" y2="427.00" stroke="#231815" stroke-width="0.92"/>
<line x1="1378.00" y1="422.40" x2="1378.00" y2="427.00" stroke="#231815" stroke-width="0.92"/>
<line x1="1546.00" y1="422.40" x2="1546.00" y2="427.00" stroke="#231815" stroke-width="0.92"/>
<line x1="1552.00" y1="422.40" x2="1552.00" y2="427.00" stroke="#231815" stroke-width="0.92"/>
<line x1="1343.20" y1="192.40" x2="1343.20" y2="422.40" stroke="#231815" stroke-width="1.15"/>
<line x1="1345.60" y1="192.40" x2="1345.60" y2="422.40" stroke="#231815" stroke-width="2.18"/>
<line x1="1574.40" y1="192.40" x2="1574.40" y2="422.40" stroke="#231815" stroke-width="1.15"/>
<line x1="1577.80" y1="192.40" x2="1577.80" y2="422.40" stroke="#231815" stroke-width="2.18"/>
<line x1="1342.80" y1="192.80" x2="1390.30" y2="192.80" stroke="#231815" stroke-width="1.95"/>
<line x1="1531.30" y1="192.80" x2="1579.00" y2="192.80" stroke="#231815" stroke-width="1.95"/>
<line x1="1342.80" y1="422.20" x2="1409.40" y2="422.20" stroke="#231815" stroke-width="1.84"/>
<line x1="1512.00" y1="422.20" x2="1579.00" y2="422.20" stroke="#231815" stroke-width="1.84"/>
<line x1="1409.50" y1="192.00" x2="1409.50" y2="422.40" stroke="#231815" stroke-width="2.76"/>
<line x1="1512.20" y1="192.00" x2="1512.20" y2="422.40" stroke="#231815" stroke-width="2.76"/>
<line x1="1407.20" y1="192.40" x2="1407.20" y2="422.40" stroke="#231815" stroke-width="0.80"/>
<line x1="1514.60" y1="192.40" x2="1514.60" y2="422.40" stroke="#231815" stroke-width="0.80"/>
<line x1="1421.00" y1="192.00" x2="1421.00" y2="422.00" stroke="#231815" stroke-width="3.10"/>
<line x1="1432.40" y1="192.00" x2="1432.40" y2="422.00" stroke="#231815" stroke-width="3.10"/>
<line x1="1444.00" y1="192.00" x2="1444.00" y2="422.00" stroke="#231815" stroke-width="3.10"/>
<line x1="1455.40" y1="192.00" x2="1455.40" y2="422.00" stroke="#231815" stroke-width="3.10"/>
<line x1="1467.00" y1="192.00" x2="1467.00" y2="422.00" stroke="#231815" stroke-width="3.10"/>
<line x1="1478.40" y1="192.00" x2="1478.40" y2="422.00" stroke="#231815" stroke-width="3.10"/>
<line x1="1489.80" y1="192.00" x2="1489.80" y2="422.00" stroke="#231815" stroke-width="3.10"/>
<line x1="1501.00" y1="192.00" x2="1501.00" y2="422.00" stroke="#231815" stroke-width="3.10"/>
<line x1="1397.60" y1="192.50" x2="1397.60" y2="227.40" stroke="#231815" stroke-width="3.45"/>
<line x1="1397.60" y1="387.00" x2="1397.60" y2="422.00" stroke="#231815" stroke-width="3.45"/>
<line x1="1524.00" y1="192.50" x2="1524.00" y2="227.40" stroke="#231815" stroke-width="3.45"/>
<line x1="1524.00" y1="387.00" x2="1524.00" y2="422.00" stroke="#231815" stroke-width="3.45"/>
<line x1="1390.30" y1="192.80" x2="1390.30" y2="228.00" stroke="#231815" stroke-width="1.15"/>
<line x1="1390.30" y1="386.00" x2="1390.30" y2="422.00" stroke="#231815" stroke-width="1.15"/>
<line x1="1531.30" y1="192.80" x2="1531.30" y2="228.00" stroke="#231815" stroke-width="1.15"/>
<line x1="1531.30" y1="386.00" x2="1531.30" y2="422.00" stroke="#231815" stroke-width="1.15"/>
<line x1="1409.40" y1="196.50" x2="1512.40" y2="196.50" stroke="#231815" stroke-width="1.26"/>
<line x1="1412.00" y1="416.00" x2="1508.50" y2="416.00" stroke="#231815" stroke-width="1.03"/>
<path d="M1409.40,198.50 L1414.00,198.50 L1414.00,203.50 L1411.00,203.50" fill="none" stroke="#231815" stroke-width="0.92" stroke-linejoin="miter"/>
<path d="M1512.40,198.50 L1508.00,198.50 L1508.00,203.50 L1511.00,203.50" fill="none" stroke="#231815" stroke-width="0.92" stroke-linejoin="miter"/>
<path d="M1409.40,409.00 L1414.00,409.00 L1414.00,416.00" fill="none" stroke="#231815" stroke-width="0.92" stroke-linejoin="miter"/>
<path d="M1512.40,409.00 L1508.00,409.00 L1508.00,416.00" fill="none" stroke="#231815" stroke-width="0.92" stroke-linejoin="miter"/>
<line x1="1390.30" y1="204.60" x2="1414.00" y2="204.60" stroke="#231815" stroke-width="1.03"/>
<line x1="1508.00" y1="204.60" x2="1531.30" y2="204.60" stroke="#231815" stroke-width="1.03"/>
<line x1="1390.30" y1="410.00" x2="1414.00" y2="410.00" stroke="#231815" stroke-width="1.03"/>
<line x1="1508.00" y1="410.00" x2="1531.30" y2="410.00" stroke="#231815" stroke-width="1.03"/>
<rect x="1347.70" y="194.40" width="40.20" height="32.60" fill="none" stroke="#231815" stroke-width="1.38" rx="3"/>
<ellipse cx="1364.40" cy="210.40" rx="9.5" ry="7.8" fill="none" stroke="#231815" stroke-width="1.3"/>
<rect x="1357.40" y="205.50" width="14" height="9.8" rx="4.9" fill="none" stroke="#231815" stroke-width="1.2"/>
<line x1="1347.70" y1="209.20" x2="1355.00" y2="209.20" stroke="#231815" stroke-width="1.03"/>
<line x1="1347.70" y1="211.60" x2="1355.00" y2="211.60" stroke="#231815" stroke-width="1.03"/>
<line x1="1373.80" y1="210.40" x2="1387.90" y2="210.40" stroke="#231815" stroke-width="2.30"/>
<line x1="1363.10" y1="194.40" x2="1363.10" y2="203.80" stroke="#231815" stroke-width="0.92"/>
<line x1="1365.70" y1="194.40" x2="1365.70" y2="203.80" stroke="#231815" stroke-width="0.92"/>
<line x1="1363.10" y1="217.00" x2="1363.10" y2="227.00" stroke="#231815" stroke-width="0.92"/>
<line x1="1365.70" y1="217.00" x2="1365.70" y2="227.00" stroke="#231815" stroke-width="0.92"/>
<line x1="1343.60" y1="228.20" x2="1409.40" y2="228.20" stroke="#231815" stroke-width="1.15"/>
<line x1="1343.60" y1="229.60" x2="1409.40" y2="229.60" stroke="#231815" stroke-width="0.92"/>
<rect x="1534.10" y="194.40" width="40.20" height="32.60" fill="none" stroke="#231815" stroke-width="1.38" rx="3"/>
<ellipse cx="1557.60" cy="210.40" rx="9.5" ry="7.8" fill="none" stroke="#231815" stroke-width="1.3"/>
<rect x="1550.60" y="205.50" width="14" height="9.8" rx="4.9" fill="none" stroke="#231815" stroke-width="1.2"/>
<line x1="1574.30" y1="209.20" x2="1567.00" y2="209.20" stroke="#231815" stroke-width="1.03"/>
<line x1="1574.30" y1="211.60" x2="1567.00" y2="211.60" stroke="#231815" stroke-width="1.03"/>
<line x1="1548.20" y1="210.40" x2="1534.10" y2="210.40" stroke="#231815" stroke-width="2.30"/>
<line x1="1556.30" y1="194.40" x2="1556.30" y2="203.80" stroke="#231815" stroke-width="0.92"/>
<line x1="1558.90" y1="194.40" x2="1558.90" y2="203.80" stroke="#231815" stroke-width="0.92"/>
<line x1="1556.30" y1="217.00" x2="1556.30" y2="227.00" stroke="#231815" stroke-width="0.92"/>
<line x1="1558.90" y1="217.00" x2="1558.90" y2="227.00" stroke="#231815" stroke-width="0.92"/>
<line x1="1579.00" y1="228.20" x2="1512.40" y2="228.20" stroke="#231815" stroke-width="1.15"/>
<line x1="1579.00" y1="229.60" x2="1512.40" y2="229.60" stroke="#231815" stroke-width="0.92"/>
<rect x="1347.70" y="387.40" width="40.20" height="32.60" fill="none" stroke="#231815" stroke-width="1.38" rx="3"/>
<ellipse cx="1364.40" cy="404.00" rx="9.5" ry="7.8" fill="none" stroke="#231815" stroke-width="1.3"/>
<rect x="1357.40" y="399.10" width="14" height="9.8" rx="4.9" fill="none" stroke="#231815" stroke-width="1.2"/>
<line x1="1347.70" y1="402.80" x2="1355.00" y2="402.80" stroke="#231815" stroke-width="1.03"/>
<line x1="1347.70" y1="405.20" x2="1355.00" y2="405.20" stroke="#231815" stroke-width="1.03"/>
<line x1="1373.80" y1="402.80" x2="1387.90" y2="402.80" stroke="#231815" stroke-width="1.03"/>
<line x1="1373.80" y1="405.20" x2="1387.90" y2="405.20" stroke="#231815" stroke-width="1.03"/>
<line x1="1363.10" y1="420.00" x2="1363.10" y2="410.60" stroke="#231815" stroke-width="0.92"/>
<line x1="1365.70" y1="420.00" x2="1365.70" y2="410.60" stroke="#231815" stroke-width="0.92"/>
<line x1="1363.10" y1="397.40" x2="1363.10" y2="387.40" stroke="#231815" stroke-width="0.92"/>
<line x1="1365.70" y1="397.40" x2="1365.70" y2="387.40" stroke="#231815" stroke-width="0.92"/>
<line x1="1346.60" y1="384.60" x2="1415.00" y2="384.60" stroke="#231815" stroke-width="1.26" stroke-dasharray="7 2.5"/>
<rect x="1534.10" y="387.40" width="40.20" height="32.60" fill="none" stroke="#231815" stroke-width="1.38" rx="3"/>
<ellipse cx="1557.60" cy="404.00" rx="9.5" ry="7.8" fill="none" stroke="#231815" stroke-width="1.3"/>
<rect x="1550.60" y="399.10" width="14" height="9.8" rx="4.9" fill="none" stroke="#231815" stroke-width="1.2"/>
<line x1="1574.30" y1="402.80" x2="1567.00" y2="402.80" stroke="#231815" stroke-width="1.03"/>
<line x1="1574.30" y1="405.20" x2="1567.00" y2="405.20" stroke="#231815" stroke-width="1.03"/>
<line x1="1548.20" y1="404.00" x2="1534.10" y2="404.00" stroke="#231815" stroke-width="2.30"/>
<line x1="1556.30" y1="420.00" x2="1556.30" y2="410.60" stroke="#231815" stroke-width="0.92"/>
<line x1="1558.90" y1="420.00" x2="1558.90" y2="410.60" stroke="#231815" stroke-width="0.92"/>
<line x1="1556.30" y1="397.40" x2="1556.30" y2="387.40" stroke="#231815" stroke-width="0.92"/>
<line x1="1558.90" y1="397.40" x2="1558.90" y2="387.40" stroke="#231815" stroke-width="0.92"/>
<line x1="1579.00" y1="386.20" x2="1512.40" y2="386.20" stroke="#231815" stroke-width="1.15"/>
<line x1="1579.00" y1="384.80" x2="1512.40" y2="384.80" stroke="#231815" stroke-width="0.92"/>
<line x1="1549.00" y1="210.40" x2="1566.00" y2="210.40" stroke="#231815" stroke-width="0.92"/>
<line x1="1549.00" y1="404.00" x2="1566.00" y2="404.00" stroke="#231815" stroke-width="0.92"/>
<line x1="1356.00" y1="210.40" x2="1373.00" y2="210.40" stroke="#231815" stroke-width="0.92"/>
<line x1="1363.60" y1="136.00" x2="1363.60" y2="385.00" stroke="#231815" stroke-width="0.92"/>
<line x1="1557.60" y1="136.00" x2="1557.60" y2="198.00" stroke="#231815" stroke-width="0.92"/>
<line x1="1558.00" y1="228.00" x2="1558.00" y2="387.00" stroke="#231815" stroke-width="0.92"/>
<line x1="1557.60" y1="376.00" x2="1557.60" y2="432.00" stroke="#231815" stroke-width="0.92"/>
<circle cx="1388.60" cy="244.60" r="4.80" fill="none" stroke="#231815" stroke-width="2.07"/>
<circle cx="1533.20" cy="244.40" r="4.80" fill="none" stroke="#231815" stroke-width="2.07"/>
<circle cx="1389.00" cy="369.60" r="4.80" fill="none" stroke="#231815" stroke-width="1.61"/>
<circle cx="1533.20" cy="369.60" r="4.80" fill="none" stroke="#231815" stroke-width="2.07"/>
<line x1="1381.00" y1="369.60" x2="1397.00" y2="369.60" stroke="#231815" stroke-width="0.92"/>
<line x1="1389.00" y1="361.60" x2="1389.00" y2="377.60" stroke="#231815" stroke-width="0.92"/>
<line x1="332.00" y1="106.10" x2="473.00" y2="106.10" stroke="#231815" stroke-width="1.03"/>
<line x1="383.00" y1="413.30" x2="473.00" y2="413.30" stroke="#231815" stroke-width="1.03"/>
<line x1="465.90" y1="106.00" x2="465.90" y2="413.30" stroke="#231815" stroke-width="1.03"/>
<path d="M466.50,106.00 L468.70,119.40 L463.10,119.40 L465.30,106.00 Z" fill="#231815"/>
<path d="M465.30,413.30 L463.10,399.90 L468.70,399.90 L466.50,413.30 Z" fill="#231815"/>
<text transform="translate(462.00,259.50) rotate(-90) scale(0.752,1)" font-size="25.8" text-anchor="middle" fill="#231815" stroke="#231815" stroke-width="0.3" font-weight="normal" >403</text>
<line x1="427.00" y1="291.20" x2="427.00" y2="413.30" stroke="#231815" stroke-width="1.03"/>
<path d="M427.60,291.20 L429.80,304.60 L424.20,304.60 L426.40,291.20 Z" fill="#231815"/>
<path d="M426.40,413.30 L424.20,399.90 L429.80,399.90 L427.60,413.30 Z" fill="#231815"/>
<text transform="translate(422.00,350.60) rotate(-90) scale(0.752,1)" font-size="25.8" text-anchor="middle" fill="#231815" stroke="#231815" stroke-width="0.3" font-weight="normal" >160</text>
<line x1="152.70" y1="413.30" x2="152.70" y2="471.00" stroke="#231815" stroke-width="1.03"/>
<line x1="383.00" y1="413.30" x2="383.00" y2="471.00" stroke="#231815" stroke-width="1.03"/>
<line x1="152.70" y1="464.00" x2="383.00" y2="464.00" stroke="#231815" stroke-width="1.03"/>
<path d="M152.70,463.40 L166.10,461.20 L166.10,466.80 L152.70,464.60 Z" fill="#231815"/>
<path d="M383.00,464.60 L369.60,466.80 L369.60,461.20 L383.00,463.40 Z" fill="#231815"/>
<text transform="translate(268.60,457.60) rotate(0) scale(0.752,1)" font-size="25.8" text-anchor="middle" fill="#231815" stroke="#231815" stroke-width="0.3" font-weight="normal" >302</text>
<line x1="128.00" y1="397.40" x2="152.70" y2="397.40" stroke="#231815" stroke-width="1.03"/>
<line x1="128.00" y1="413.30" x2="152.70" y2="413.30" stroke="#231815" stroke-width="1.03"/>
<line x1="136.00" y1="359.00" x2="136.00" y2="397.40" stroke="#231815" stroke-width="1.03"/>
<line x1="136.00" y1="413.30" x2="136.00" y2="458.70" stroke="#231815" stroke-width="1.03"/>
<line x1="136.00" y1="397.40" x2="136.00" y2="413.30" stroke="#231815" stroke-width="1.03"/>
<path d="M135.40,397.40 L133.20,384.00 L138.80,384.00 L136.60,397.40 Z" fill="#231815"/>
<path d="M136.60,413.30 L138.80,426.70 L133.20,426.70 L135.40,413.30 Z" fill="#231815"/>
<text transform="translate(130.00,368.00) rotate(-90) scale(0.752,1)" font-size="25.8" text-anchor="middle" fill="#231815" stroke="#231815" stroke-width="0.3" font-weight="normal" >20</text>
<text transform="translate(119.60,213.20) rotate(0) scale(0.752,1)" font-size="25.8" text-anchor="start" fill="#231815" stroke="#231815" stroke-width="0.3" font-weight="normal" >4<tspan font-weight="bold" dx="1.5">-</tspan><tspan font-style="italic" stroke-width="0.05" dx="4.7">Ø</tspan><tspan dx="-1.6">9</tspan></text>
<path d="M119.60,218.80 L174.00,218.80 L241.00,265.20" fill="none" stroke="#231815" stroke-width="1.03" stroke-linejoin="miter"/>
<path d="M242,266 L241,265 L229.0,260.2 L232.6,255.2 Z" fill="#231815"/>
<text transform="translate(110.50,265.20) rotate(0) scale(0.752,1)" font-size="25.8" text-anchor="start" fill="#231815" stroke="#231815" stroke-width="0.3" font-weight="normal" ><tspan font-style="italic" stroke-width="0.05">Ø</tspan><tspan dx="-1.6">87</tspan></text>
<path d="M110.00,271.40 L150.00,271.40 L300.30,297.20" fill="none" stroke="#231815" stroke-width="1.03" stroke-linejoin="miter"/>
<path d="M235.3,285.3 L235.1,286.5 L247,291.2 L248,285.0 Z" fill="#231815"/>
<path d="M300.4,296.6 L300.2,297.8 L287.4,298.0 L288.4,291.8 Z" fill="#231815"/>
<line x1="705.40" y1="61.00" x2="705.40" y2="199.00" stroke="#231815" stroke-width="1.03"/>
<line x1="705.40" y1="391.00" x2="705.40" y2="475.60" stroke="#231815" stroke-width="1.03"/>
<line x1="1148.40" y1="61.00" x2="1148.40" y2="200.00" stroke="#231815" stroke-width="1.03"/>
<line x1="1148.40" y1="390.00" x2="1148.40" y2="475.60" stroke="#231815" stroke-width="1.03"/>
<line x1="705.40" y1="68.60" x2="1148.40" y2="68.60" stroke="#231815" stroke-width="1.03"/>
<path d="M705.40,68.00 L718.80,65.80 L718.80,71.40 L705.40,69.20 Z" fill="#231815"/>
<path d="M1148.40,69.20 L1135.00,71.40 L1135.00,65.80 L1148.40,68.00 Z" fill="#231815"/>
<text transform="translate(926.50,61.60) rotate(0) scale(0.752,1)" font-size="25.8" text-anchor="middle" fill="#231815" stroke="#231815" stroke-width="0.3" font-weight="normal" >582</text>
<line x1="705.40" y1="128.60" x2="757.40" y2="128.60" stroke="#231815" stroke-width="1.03"/>
<path d="M705.40,128.00 L718.80,125.80 L718.80,131.40 L705.40,129.20 Z" fill="#231815"/>
<path d="M757.40,129.20 L744.00,131.40 L744.00,125.80 L757.40,128.00 Z" fill="#231815"/>
<line x1="757.30" y1="122.00" x2="757.30" y2="392.00" stroke="#4a4240" stroke-width="0.92"/>
<text transform="translate(731.70,122.00) rotate(0) scale(0.752,1)" font-size="25.8" text-anchor="middle" fill="#231815" stroke="#231815" stroke-width="0.3" font-weight="normal" >68</text>
<line x1="672.00" y1="157.60" x2="768.40" y2="157.60" stroke="#231815" stroke-width="1.03"/>
<path d="M705.40,158.20 L692.00,160.40 L692.00,154.80 L705.40,157.00 Z" fill="#231815"/>
<path d="M721.60,157.00 L735.00,154.80 L735.00,160.40 L721.60,158.20 Z" fill="#231815"/>
<line x1="721.60" y1="150.40" x2="721.60" y2="295.00" stroke="#4a4240" stroke-width="0.92"/>
<text transform="translate(683.00,151.00) rotate(0) scale(0.752,1)" font-size="25.8" text-anchor="middle" fill="#231815" stroke="#231815" stroke-width="0.3" font-weight="normal" >22</text>
<line x1="674.00" y1="191.00" x2="758.00" y2="191.00" stroke="#231815" stroke-width="1.03"/>
<path d="M714.40,191.60 L701.00,193.80 L701.00,188.20 L714.40,190.40 Z" fill="#231815"/>
<path d="M721.60,190.40 L735.00,188.20 L735.00,193.80 L721.60,191.60 Z" fill="#231815"/>
<line x1="714.40" y1="184.00" x2="714.40" y2="200.00" stroke="#231815" stroke-width="0.92"/>
<text transform="translate(685.00,183.60) rotate(0) scale(0.752,1)" font-size="25.8" text-anchor="middle" fill="#231815" stroke="#231815" stroke-width="0.3" font-weight="normal" >10</text>
<line x1="627.00" y1="272.40" x2="706.00" y2="272.40" stroke="#231815" stroke-width="1.03"/>
<line x1="634.40" y1="272.40" x2="634.40" y2="314.00" stroke="#231815" stroke-width="1.03"/>
<path d="M635.00,272.40 L637.20,285.80 L631.60,285.80 L633.80,272.40 Z" fill="#231815"/>
<text transform="translate(626.00,298.00) rotate(-90) scale(0.752,1)" font-size="25.8" text-anchor="middle" fill="#231815" stroke="#231815" stroke-width="0.3" font-weight="normal" ><tspan font-style="italic" stroke-width="0.05">Ø</tspan><tspan dx="-1.6">61</tspan></text>
<line x1="673.00" y1="286.40" x2="721.00" y2="286.40" stroke="#231815" stroke-width="1.03"/>
<line x1="680.00" y1="286.40" x2="680.00" y2="330.00" stroke="#231815" stroke-width="1.03"/>
<path d="M680.60,286.40 L682.80,299.80 L677.20,299.80 L679.40,286.40 Z" fill="#231815"/>
<text transform="translate(670.40,314.00) rotate(-90) scale(0.752,1)" font-size="25.8" text-anchor="middle" fill="#231815" stroke="#231815" stroke-width="0.3" font-weight="normal" ><tspan font-style="italic" stroke-width="0.05">Ø</tspan><tspan dx="-1.6">24</tspan></text>
<line x1="784.40" y1="417.60" x2="784.40" y2="475.60" stroke="#231815" stroke-width="1.03"/>
<line x1="1013.40" y1="417.60" x2="1013.40" y2="475.60" stroke="#231815" stroke-width="1.03"/>
<line x1="705.40" y1="468.00" x2="1148.40" y2="468.00" stroke="#231815" stroke-width="1.03"/>
<path d="M705.40,467.40 L718.80,465.20 L718.80,470.80 L705.40,468.60 Z" fill="#231815"/>
<path d="M784.40,467.40 L797.80,465.20 L797.80,470.80 L784.40,468.60 Z" fill="#231815"/>
<path d="M1013.40,467.40 L1026.80,465.20 L1026.80,470.80 L1013.40,468.60 Z" fill="#231815"/>
<path d="M784.40,468.60 L771.00,470.80 L771.00,465.20 L784.40,467.40 Z" fill="#231815"/>
<path d="M1013.40,468.60 L1000.00,470.80 L1000.00,465.20 L1013.40,467.40 Z" fill="#231815"/>
<path d="M1148.40,468.60 L1135.00,470.80 L1135.00,465.20 L1148.40,467.40 Z" fill="#231815"/>
<text transform="translate(746.20,462.00) rotate(0) scale(0.752,1)" font-size="25.8" text-anchor="middle" fill="#231815" stroke="#231815" stroke-width="0.3" font-weight="normal" >104.5</text>
<text transform="translate(899.50,462.00) rotate(0) scale(0.752,1)" font-size="25.8" text-anchor="middle" fill="#231815" stroke="#231815" stroke-width="0.3" font-weight="normal" >300</text>
<text transform="translate(1081.50,462.00) rotate(0) scale(0.752,1)" font-size="25.8" text-anchor="middle" fill="#231815" stroke="#231815" stroke-width="0.3" font-weight="normal" >177.5</text>
<line x1="1363.60" y1="143.00" x2="1557.60" y2="143.00" stroke="#231815" stroke-width="1.03"/>
<path d="M1363.60,142.40 L1377.00,140.20 L1377.00,145.80 L1363.60,143.60 Z" fill="#231815"/>
<path d="M1557.60,143.60 L1544.20,145.80 L1544.20,140.20 L1557.60,142.40 Z" fill="#231815"/>
<text transform="translate(1461.00,137.00) rotate(0) scale(0.752,1)" font-size="25.8" text-anchor="middle" fill="#231815" stroke="#231815" stroke-width="0.3" font-weight="normal" >254</text>
<line x1="1579.00" y1="210.40" x2="1633.00" y2="210.40" stroke="#231815" stroke-width="1.03"/>
<line x1="1579.00" y1="404.00" x2="1633.00" y2="404.00" stroke="#231815" stroke-width="1.03"/>
<line x1="1626.00" y1="210.40" x2="1626.00" y2="404.00" stroke="#231815" stroke-width="1.03"/>
<path d="M1626.60,210.40 L1628.80,223.80 L1623.20,223.80 L1625.40,210.40 Z" fill="#231815"/>
<path d="M1625.40,404.00 L1623.20,390.60 L1628.80,390.60 L1626.60,404.00 Z" fill="#231815"/>
<text transform="translate(1620.00,306.50) rotate(-90) scale(0.752,1)" font-size="25.8" text-anchor="middle" fill="#231815" stroke="#231815" stroke-width="0.3" font-weight="normal" >254</text>
<line x1="1312.00" y1="398.20" x2="1357.00" y2="398.20" stroke="#231815" stroke-width="1.03"/>
<line x1="1312.00" y1="409.40" x2="1357.00" y2="409.40" stroke="#231815" stroke-width="1.03"/>
<line x1="1319.00" y1="352.00" x2="1319.00" y2="439.00" stroke="#231815" stroke-width="1.03"/>
<path d="M1318.40,398.20 L1316.20,384.80 L1321.80,384.80 L1319.60,398.20 Z" fill="#231815"/>
<path d="M1319.60,409.40 L1321.80,422.80 L1316.20,422.80 L1318.40,409.40 Z" fill="#231815"/>
<text transform="translate(1313.00,430.00) rotate(-90) scale(0.752,1)" font-size="25.8" text-anchor="middle" fill="#231815" stroke="#231815" stroke-width="0.3" font-weight="normal" >14</text>
<line x1="1357.00" y1="404.00" x2="1357.00" y2="457.00" stroke="#231815" stroke-width="1.03"/>
<line x1="1371.60" y1="404.00" x2="1371.60" y2="457.00" stroke="#231815" stroke-width="1.03"/>
<line x1="1331.00" y1="453.00" x2="1418.00" y2="453.00" stroke="#231815" stroke-width="1.03"/>
<path d="M1357.00,453.60 L1343.60,455.80 L1343.60,450.20 L1357.00,452.40 Z" fill="#231815"/>
<path d="M1371.60,452.40 L1385.00,450.20 L1385.00,455.80 L1371.60,453.60 Z" fill="#231815"/>
<text transform="translate(1342.00,446.00) rotate(0) scale(0.752,1)" font-size="25.8" text-anchor="middle" fill="#231815" stroke="#231815" stroke-width="0.3" font-weight="normal" >20</text>
</svg>
</body></html>
